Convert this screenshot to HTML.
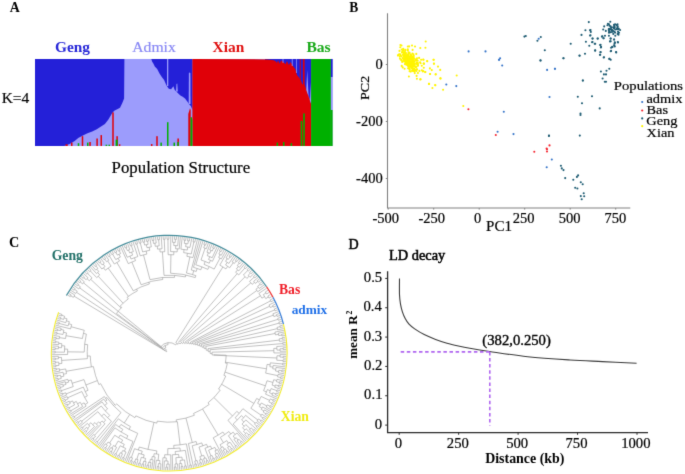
<!DOCTYPE html>
<html><head><meta charset="utf-8"><style>
html,body{margin:0;padding:0;background:#fff;}
svg{display:block;font-family:"Liberation Serif",serif;}
</style></head><body>
<svg width="685" height="474" viewBox="0 0 685 474">
<defs><filter id="bl" x="0" y="0" width="685" height="474" filterUnits="userSpaceOnUse" primitiveUnits="userSpaceOnUse" color-interpolation-filters="sRGB"><feConvolveMatrix order="3" kernelMatrix="0.01134 0.08382 0.01134 0.08382 0.61935 0.08382 0.01134 0.08382 0.01134" divisor="1" edgeMode="duplicate" preserveAlpha="true"/></filter></defs>
<rect width="685" height="474" fill="#fff"/>
<g filter="url(#bl)">
<rect width="685" height="474" fill="#fff"/>
<rect x="35.0" y="59.0" width="297.6" height="87.0" fill="#9c9cfc"/>
<polygon points="35.00,59.00 35.00,146.00 64.30,146.10 70.10,143.80 74.70,140.90 78.20,138.00 82.90,135.60 87.50,133.30 92.20,131.60 96.80,129.30 101.40,126.30 104.90,124.00 108.40,119.40 111.90,113.60 114.20,110.70 117.70,108.90 120.00,107.80 122.30,103.10 124.10,98.50 124.40,59.00" fill="#2420d8"/>
<polygon points="151.30,59.10 152.30,62.00 153.10,63.10 154.80,66.60 157.20,68.90 159.50,73.60 161.80,77.10 164.10,80.00 166.40,85.20 168.80,88.70 171.10,89.30 173.40,86.30 174.60,89.80 176.30,91.50 178.00,93.30 180.40,95.60 182.70,96.80 185.00,98.50 187.30,101.40 189.00,104.00 190.80,106.10 192.50,110.00 192.50,59.00" fill="#2420d8"/>
<rect x="167.0" y="59" width="1.3" height="27" fill="#9c9cfc"/>
<polygon points="176.00,91.50 176.50,84.00 177.30,83.50 177.80,91.50" fill="#9c9cfc"/>
<polygon points="188.70,104.00 188.90,73.50 189.60,72.30 190.40,73.50 190.50,104.00" fill="#9c9cfc"/>
<polygon points="152.50,59.00 153.20,64.00 153.60,59.00" fill="#2420d8"/>
<rect x="265" y="59" width="46.1" height="50" fill="#2420d8"/>
<polygon points="192.40,59.00 266.70,59.40 273.70,60.30 276.00,61.50 277.00,63.00 278.00,60.00 279.50,63.80 281.00,60.50 283.50,62.00 285.40,64.30 287.00,61.00 288.90,64.90 290.50,62.00 293.50,66.70 295.30,69.00 297.00,74.90 298.80,77.20 301.10,80.70 302.30,84.20 302.90,84.20 302.90,59.00 304.60,59.00 304.60,84.20 306.40,90.00 308.10,94.70 309.90,99.40 311.10,104.00 311.10,146.00 192.40,146.00" fill="#e00008"/>
<polygon points="306.30,90.00 307.20,70.00 308.60,96.00 309.80,100.00 310.30,82.00 311.10,104.00" fill="#9c9cfc"/>
<rect x="299.8" y="59" width="0.9" height="22" fill="#e00008"/>
<rect x="296.2" y="59" width="0.7" height="14" fill="#9c9cfc"/>
<rect x="291.8" y="59" width="0.8" height="7" fill="#9c9cfc"/>
<rect x="282.6" y="59" width="0.8" height="4" fill="#9c9cfc"/>
<rect x="311.1" y="59" width="19.8" height="87" fill="#00b000"/>
<rect x="330.9" y="59" width="1.7" height="18" fill="#2420d8"/>
<rect x="330.9" y="77" width="1.7" height="33" fill="#9c9cfc"/>
<rect x="330.9" y="110" width="1.7" height="36" fill="#00b000"/>
<rect x="65.50" y="144.30" width="2.20" height="1.70" fill="#e00008"/>
<rect x="71.00" y="142.60" width="1.50" height="3.40" fill="#e00008"/>
<rect x="81.75" y="136.20" width="1.50" height="9.80" fill="#e00008"/>
<rect x="89.30" y="142.00" width="1.50" height="4.00" fill="#e00008"/>
<rect x="96.35" y="138.50" width="1.50" height="7.50" fill="#e00008"/>
<rect x="100.50" y="135.10" width="1.50" height="10.90" fill="#e00008"/>
<rect x="112.25" y="112.40" width="1.50" height="33.60" fill="#e00008"/>
<rect x="116.35" y="136.20" width="1.50" height="9.80" fill="#e00008"/>
<rect x="118.85" y="144.30" width="1.50" height="1.70" fill="#e00008"/>
<rect x="77.75" y="143.20" width="1.50" height="2.80" fill="#00b000"/>
<rect x="87.00" y="142.60" width="1.50" height="3.40" fill="#00b000"/>
<rect x="105.60" y="144.70" width="1.50" height="1.30" fill="#00b000"/>
<rect x="108.50" y="144.70" width="1.50" height="1.30" fill="#00b000"/>
<rect x="115.60" y="139.70" width="2.00" height="6.30" fill="#00b000"/>
<rect x="150.95" y="144.10" width="1.50" height="1.90" fill="#e00008"/>
<rect x="156.25" y="136.20" width="1.50" height="9.80" fill="#e00008"/>
<rect x="160.40" y="142.60" width="1.50" height="3.40" fill="#00b000"/>
<rect x="167.00" y="122.20" width="1.50" height="23.80" fill="#00b000"/>
<rect x="173.50" y="142.60" width="1.50" height="3.40" fill="#00b000"/>
<rect x="177.40" y="138.50" width="1.50" height="7.50" fill="#e00008"/>
<rect x="177.30" y="142.00" width="1.50" height="4.00" fill="#00b000"/>
<rect x="300.70" y="121.00" width="1.50" height="25.00" fill="#00b000"/>
<rect x="303.20" y="113.40" width="1.60" height="32.60" fill="#00b000"/>
<rect x="276.60" y="142.60" width="1.50" height="3.40" fill="#00b000"/>
<rect x="283.00" y="142.00" width="1.50" height="4.00" fill="#00b000"/>
<rect x="290.60" y="143.20" width="1.50" height="2.80" fill="#00b000"/>
<polygon points="188.30,146.00 188.30,114.00 190.00,108.20 190.70,110.00 190.70,146.00" fill="#e00008"/>
<polygon points="190.40,146.00 190.60,117.00 191.60,116.90 192.40,120.00 192.40,146.00" fill="#00b000"/>
<text transform="translate(9.76,11.60) scale(0.9657,1)" font-size="14.39" font-weight="bold" fill="#000" stroke="#000" stroke-width="0.0">A</text>
<text transform="translate(54.94,52.30) scale(1.0102,1)" font-size="15.26" font-weight="bold" fill="#2828d8" stroke="#2828d8" stroke-width="0.0">Geng</text>
<text transform="translate(132.24,51.90) scale(1.0988,1)" font-size="14.27" font-weight="normal" fill="#8a8af5" stroke="#8a8af5" stroke-width="0.2">Admix</text>
<text transform="translate(212.51,52.20) scale(1.0397,1)" font-size="14.84" font-weight="bold" fill="#e01010" stroke="#e01010" stroke-width="0.0">Xian</text>
<text transform="translate(306.44,51.70) scale(1.0412,1)" font-size="14.96" font-weight="bold" fill="#1aaa1a" stroke="#1aaa1a" stroke-width="0.0">Bas</text>
<text transform="translate(1.65,103.30) scale(1.0000,1)" font-size="15.5" font-weight="normal" fill="#000" stroke="#000" stroke-width="0.2">K=4</text>
<text transform="translate(111.61,172.50) scale(1.0325,1)" font-size="16.28" font-weight="normal" fill="#000" stroke="#000" stroke-width="0.2">Population Structure</text>
<path d="M387.5,13.2 V208 H630.3" fill="none" stroke="#808080" stroke-width="1.1"/>
<line x1="388.20" y1="208" x2="388.20" y2="209.6" stroke="#808080" stroke-width="1"/>
<line x1="433.70" y1="208" x2="433.70" y2="209.6" stroke="#808080" stroke-width="1"/>
<line x1="479.20" y1="208" x2="479.20" y2="209.6" stroke="#808080" stroke-width="1"/>
<line x1="524.70" y1="208" x2="524.70" y2="209.6" stroke="#808080" stroke-width="1"/>
<line x1="570.20" y1="208" x2="570.20" y2="209.6" stroke="#808080" stroke-width="1"/>
<line x1="615.70" y1="208" x2="615.70" y2="209.6" stroke="#808080" stroke-width="1"/>
<line x1="385.8" y1="64.50" x2="387.5" y2="64.50" stroke="#808080" stroke-width="1"/>
<line x1="385.8" y1="121.50" x2="387.5" y2="121.50" stroke="#808080" stroke-width="1"/>
<line x1="385.8" y1="178.50" x2="387.5" y2="178.50" stroke="#808080" stroke-width="1"/>
<circle cx="407.1" cy="61.0" r="1.05" fill="#fff400"/>
<circle cx="409.5" cy="59.2" r="1.05" fill="#fff400"/>
<circle cx="406.5" cy="56.2" r="1.05" fill="#fff400"/>
<circle cx="412.6" cy="67.1" r="1.05" fill="#fff400"/>
<circle cx="412.8" cy="66.3" r="1.05" fill="#fff400"/>
<circle cx="410.5" cy="63.2" r="1.05" fill="#fff400"/>
<circle cx="400.7" cy="55.3" r="1.05" fill="#fff400"/>
<circle cx="410.1" cy="64.5" r="1.05" fill="#fff400"/>
<circle cx="407.8" cy="49.2" r="1.05" fill="#fff400"/>
<circle cx="407.4" cy="55.8" r="1.05" fill="#fff400"/>
<circle cx="410.8" cy="62.3" r="1.05" fill="#fff400"/>
<circle cx="413.3" cy="61.9" r="1.05" fill="#fff400"/>
<circle cx="409.6" cy="63.3" r="1.05" fill="#fff400"/>
<circle cx="402.2" cy="61.9" r="1.05" fill="#fff400"/>
<circle cx="408.3" cy="66.3" r="1.05" fill="#fff400"/>
<circle cx="409.1" cy="56.4" r="1.05" fill="#fff400"/>
<circle cx="408.5" cy="59.2" r="1.05" fill="#fff400"/>
<circle cx="411.3" cy="64.5" r="1.05" fill="#fff400"/>
<circle cx="410.4" cy="56.7" r="1.05" fill="#fff400"/>
<circle cx="404.1" cy="61.4" r="1.05" fill="#fff400"/>
<circle cx="405.7" cy="57.9" r="1.05" fill="#fff400"/>
<circle cx="415.3" cy="59.5" r="1.05" fill="#fff400"/>
<circle cx="406.1" cy="64.2" r="1.05" fill="#fff400"/>
<circle cx="402.6" cy="51.0" r="1.05" fill="#fff400"/>
<circle cx="411.3" cy="58.6" r="1.05" fill="#fff400"/>
<circle cx="411.6" cy="63.1" r="1.05" fill="#fff400"/>
<circle cx="401.6" cy="56.2" r="1.05" fill="#fff400"/>
<circle cx="409.5" cy="66.3" r="1.05" fill="#fff400"/>
<circle cx="414.1" cy="68.5" r="1.05" fill="#fff400"/>
<circle cx="413.5" cy="58.5" r="1.05" fill="#fff400"/>
<circle cx="413.6" cy="62.4" r="1.05" fill="#fff400"/>
<circle cx="411.2" cy="56.0" r="1.05" fill="#fff400"/>
<circle cx="407.2" cy="55.3" r="1.05" fill="#fff400"/>
<circle cx="420.1" cy="62.2" r="1.05" fill="#fff400"/>
<circle cx="403.2" cy="54.9" r="1.05" fill="#fff400"/>
<circle cx="413.5" cy="69.0" r="1.05" fill="#fff400"/>
<circle cx="409.1" cy="46.4" r="1.05" fill="#fff400"/>
<circle cx="412.9" cy="60.9" r="1.05" fill="#fff400"/>
<circle cx="402.5" cy="58.1" r="1.05" fill="#fff400"/>
<circle cx="413.3" cy="66.4" r="1.05" fill="#fff400"/>
<circle cx="409.3" cy="63.1" r="1.05" fill="#fff400"/>
<circle cx="413.9" cy="69.8" r="1.05" fill="#fff400"/>
<circle cx="410.0" cy="64.7" r="1.05" fill="#fff400"/>
<circle cx="399.9" cy="56.8" r="1.05" fill="#fff400"/>
<circle cx="411.7" cy="66.6" r="1.05" fill="#fff400"/>
<circle cx="403.6" cy="50.5" r="1.05" fill="#fff400"/>
<circle cx="417.7" cy="60.7" r="1.05" fill="#fff400"/>
<circle cx="406.0" cy="62.5" r="1.05" fill="#fff400"/>
<circle cx="400.0" cy="58.7" r="1.05" fill="#fff400"/>
<circle cx="412.0" cy="63.2" r="1.05" fill="#fff400"/>
<circle cx="409.0" cy="64.0" r="1.05" fill="#fff400"/>
<circle cx="406.8" cy="64.2" r="1.05" fill="#fff400"/>
<circle cx="408.1" cy="57.0" r="1.05" fill="#fff400"/>
<circle cx="413.4" cy="65.8" r="1.05" fill="#fff400"/>
<circle cx="403.5" cy="59.1" r="1.05" fill="#fff400"/>
<circle cx="416.4" cy="66.7" r="1.05" fill="#fff400"/>
<circle cx="404.5" cy="54.3" r="1.05" fill="#fff400"/>
<circle cx="409.7" cy="59.6" r="1.05" fill="#fff400"/>
<circle cx="417.7" cy="65.1" r="1.05" fill="#fff400"/>
<circle cx="417.9" cy="63.9" r="1.05" fill="#fff400"/>
<circle cx="404.7" cy="58.8" r="1.05" fill="#fff400"/>
<circle cx="411.5" cy="68.2" r="1.05" fill="#fff400"/>
<circle cx="410.4" cy="62.9" r="1.05" fill="#fff400"/>
<circle cx="408.5" cy="63.0" r="1.05" fill="#fff400"/>
<circle cx="408.1" cy="60.8" r="1.05" fill="#fff400"/>
<circle cx="411.7" cy="63.6" r="1.05" fill="#fff400"/>
<circle cx="410.9" cy="65.8" r="1.05" fill="#fff400"/>
<circle cx="416.4" cy="71.0" r="1.05" fill="#fff400"/>
<circle cx="408.9" cy="58.2" r="1.05" fill="#fff400"/>
<circle cx="406.9" cy="63.1" r="1.05" fill="#fff400"/>
<circle cx="407.1" cy="60.3" r="1.05" fill="#fff400"/>
<circle cx="423.7" cy="63.5" r="1.05" fill="#fff400"/>
<circle cx="404.5" cy="56.4" r="1.05" fill="#fff400"/>
<circle cx="410.4" cy="63.4" r="1.05" fill="#fff400"/>
<circle cx="406.0" cy="60.5" r="1.05" fill="#fff400"/>
<circle cx="412.0" cy="61.1" r="1.05" fill="#fff400"/>
<circle cx="417.9" cy="73.0" r="1.05" fill="#fff400"/>
<circle cx="407.6" cy="58.2" r="1.05" fill="#fff400"/>
<circle cx="408.8" cy="59.8" r="1.05" fill="#fff400"/>
<circle cx="400.3" cy="47.3" r="1.05" fill="#fff400"/>
<circle cx="416.6" cy="62.9" r="1.05" fill="#fff400"/>
<circle cx="406.6" cy="62.9" r="1.05" fill="#fff400"/>
<circle cx="408.7" cy="68.4" r="1.05" fill="#fff400"/>
<circle cx="403.9" cy="52.4" r="1.05" fill="#fff400"/>
<circle cx="406.5" cy="60.9" r="1.05" fill="#fff400"/>
<circle cx="421.1" cy="59.8" r="1.05" fill="#fff400"/>
<circle cx="417.7" cy="62.7" r="1.05" fill="#fff400"/>
<circle cx="416.2" cy="60.7" r="1.05" fill="#fff400"/>
<circle cx="406.9" cy="64.6" r="1.05" fill="#fff400"/>
<circle cx="408.4" cy="60.8" r="1.05" fill="#fff400"/>
<circle cx="412.2" cy="65.0" r="1.05" fill="#fff400"/>
<circle cx="404.9" cy="64.1" r="1.05" fill="#fff400"/>
<circle cx="414.4" cy="65.1" r="1.05" fill="#fff400"/>
<circle cx="423.3" cy="71.0" r="1.05" fill="#fff400"/>
<circle cx="413.8" cy="64.6" r="1.05" fill="#fff400"/>
<circle cx="408.1" cy="63.2" r="1.05" fill="#fff400"/>
<circle cx="408.6" cy="63.5" r="1.05" fill="#fff400"/>
<circle cx="407.8" cy="50.5" r="1.05" fill="#fff400"/>
<circle cx="414.5" cy="61.6" r="1.05" fill="#fff400"/>
<circle cx="409.6" cy="52.9" r="1.05" fill="#fff400"/>
<circle cx="412.3" cy="68.5" r="1.05" fill="#fff400"/>
<circle cx="417.8" cy="65.6" r="1.05" fill="#fff400"/>
<circle cx="412.6" cy="58.4" r="1.05" fill="#fff400"/>
<circle cx="408.1" cy="68.2" r="1.05" fill="#fff400"/>
<circle cx="401.8" cy="60.5" r="1.05" fill="#fff400"/>
<circle cx="413.8" cy="65.1" r="1.05" fill="#fff400"/>
<circle cx="398.0" cy="55.2" r="1.05" fill="#fff400"/>
<circle cx="410.8" cy="59.2" r="1.05" fill="#fff400"/>
<circle cx="409.9" cy="63.8" r="1.05" fill="#fff400"/>
<circle cx="418.1" cy="65.5" r="1.05" fill="#fff400"/>
<circle cx="409.8" cy="69.7" r="1.05" fill="#fff400"/>
<circle cx="415.6" cy="67.3" r="1.05" fill="#fff400"/>
<circle cx="403.8" cy="59.9" r="1.05" fill="#fff400"/>
<circle cx="409.6" cy="61.8" r="1.05" fill="#fff400"/>
<circle cx="415.7" cy="66.9" r="1.05" fill="#fff400"/>
<circle cx="401.7" cy="49.5" r="1.05" fill="#fff400"/>
<circle cx="400.1" cy="54.4" r="1.05" fill="#fff400"/>
<circle cx="412.4" cy="61.0" r="1.05" fill="#fff400"/>
<circle cx="407.2" cy="62.9" r="1.05" fill="#fff400"/>
<circle cx="406.1" cy="64.4" r="1.05" fill="#fff400"/>
<circle cx="406.4" cy="63.1" r="1.05" fill="#fff400"/>
<circle cx="410.8" cy="71.6" r="1.05" fill="#fff400"/>
<circle cx="404.5" cy="59.9" r="1.05" fill="#fff400"/>
<circle cx="405.3" cy="49.9" r="1.05" fill="#fff400"/>
<circle cx="399.0" cy="54.5" r="1.05" fill="#fff400"/>
<circle cx="404.8" cy="55.3" r="1.05" fill="#fff400"/>
<circle cx="408.8" cy="60.1" r="1.05" fill="#fff400"/>
<circle cx="406.6" cy="58.8" r="1.05" fill="#fff400"/>
<circle cx="416.3" cy="69.3" r="1.05" fill="#fff400"/>
<circle cx="408.8" cy="65.8" r="1.05" fill="#fff400"/>
<circle cx="412.2" cy="57.2" r="1.05" fill="#fff400"/>
<circle cx="404.4" cy="60.9" r="1.05" fill="#fff400"/>
<circle cx="404.8" cy="52.1" r="1.05" fill="#fff400"/>
<circle cx="411.2" cy="67.5" r="1.05" fill="#fff400"/>
<circle cx="407.3" cy="62.9" r="1.05" fill="#fff400"/>
<circle cx="413.4" cy="59.0" r="1.05" fill="#fff400"/>
<circle cx="405.2" cy="52.3" r="1.05" fill="#fff400"/>
<circle cx="414.6" cy="63.9" r="1.05" fill="#fff400"/>
<circle cx="408.1" cy="55.1" r="1.05" fill="#fff400"/>
<circle cx="403.9" cy="53.7" r="1.05" fill="#fff400"/>
<circle cx="403.9" cy="56.4" r="1.05" fill="#fff400"/>
<circle cx="399.5" cy="50.9" r="1.05" fill="#fff400"/>
<circle cx="412.4" cy="53.6" r="1.05" fill="#fff400"/>
<circle cx="413.1" cy="63.7" r="1.05" fill="#fff400"/>
<circle cx="403.3" cy="48.7" r="1.05" fill="#fff400"/>
<circle cx="411.9" cy="61.3" r="1.05" fill="#fff400"/>
<circle cx="410.4" cy="66.3" r="1.05" fill="#fff400"/>
<circle cx="411.2" cy="64.8" r="1.05" fill="#fff400"/>
<circle cx="412.8" cy="68.7" r="1.05" fill="#fff400"/>
<circle cx="417.0" cy="58.3" r="1.05" fill="#fff400"/>
<circle cx="409.3" cy="68.2" r="1.05" fill="#fff400"/>
<circle cx="409.6" cy="58.5" r="1.05" fill="#fff400"/>
<circle cx="421.8" cy="65.8" r="1.05" fill="#fff400"/>
<circle cx="404.6" cy="68.8" r="1.05" fill="#fff400"/>
<circle cx="404.0" cy="58.3" r="1.05" fill="#fff400"/>
<circle cx="417.1" cy="69.4" r="1.05" fill="#fff400"/>
<circle cx="409.2" cy="65.7" r="1.05" fill="#fff400"/>
<circle cx="406.3" cy="56.6" r="1.05" fill="#fff400"/>
<circle cx="408.4" cy="64.3" r="1.05" fill="#fff400"/>
<circle cx="409.9" cy="60.4" r="1.05" fill="#fff400"/>
<circle cx="406.6" cy="55.5" r="1.05" fill="#fff400"/>
<circle cx="412.7" cy="65.3" r="1.05" fill="#fff400"/>
<circle cx="408.5" cy="55.1" r="1.05" fill="#fff400"/>
<circle cx="416.6" cy="75.9" r="1.05" fill="#fff400"/>
<circle cx="419.1" cy="57.9" r="1.05" fill="#fff400"/>
<circle cx="410.6" cy="65.0" r="1.05" fill="#fff400"/>
<circle cx="414.8" cy="69.7" r="1.05" fill="#fff400"/>
<circle cx="407.8" cy="61.9" r="1.05" fill="#fff400"/>
<circle cx="399.2" cy="54.5" r="1.05" fill="#fff400"/>
<circle cx="412.7" cy="60.9" r="1.05" fill="#fff400"/>
<circle cx="409.6" cy="71.3" r="1.05" fill="#fff400"/>
<circle cx="405.9" cy="53.0" r="1.05" fill="#fff400"/>
<circle cx="410.1" cy="62.8" r="1.05" fill="#fff400"/>
<circle cx="410.6" cy="56.9" r="1.05" fill="#fff400"/>
<circle cx="414.8" cy="73.1" r="1.05" fill="#fff400"/>
<circle cx="408.6" cy="52.4" r="1.05" fill="#fff400"/>
<circle cx="413.3" cy="71.1" r="1.05" fill="#fff400"/>
<circle cx="414.3" cy="71.2" r="1.05" fill="#fff400"/>
<circle cx="405.4" cy="57.6" r="1.05" fill="#fff400"/>
<circle cx="403.2" cy="49.3" r="1.05" fill="#fff400"/>
<circle cx="407.8" cy="61.9" r="1.05" fill="#fff400"/>
<circle cx="407.0" cy="57.4" r="1.05" fill="#fff400"/>
<circle cx="410.2" cy="64.0" r="1.05" fill="#fff400"/>
<circle cx="411.4" cy="64.4" r="1.05" fill="#fff400"/>
<circle cx="406.1" cy="61.3" r="1.05" fill="#fff400"/>
<circle cx="412.0" cy="59.3" r="1.05" fill="#fff400"/>
<circle cx="407.1" cy="58.1" r="1.05" fill="#fff400"/>
<circle cx="408.6" cy="60.9" r="1.05" fill="#fff400"/>
<circle cx="409.0" cy="61.4" r="1.05" fill="#fff400"/>
<circle cx="412.5" cy="57.5" r="1.05" fill="#fff400"/>
<circle cx="408.2" cy="65.4" r="1.05" fill="#fff400"/>
<circle cx="411.7" cy="62.6" r="1.05" fill="#fff400"/>
<circle cx="413.9" cy="60.8" r="1.05" fill="#fff400"/>
<circle cx="402.0" cy="52.4" r="1.05" fill="#fff400"/>
<circle cx="403.9" cy="58.4" r="1.05" fill="#fff400"/>
<circle cx="412.6" cy="49.9" r="1.05" fill="#fff400"/>
<circle cx="401.1" cy="59.9" r="1.05" fill="#fff400"/>
<circle cx="411.8" cy="56.1" r="1.05" fill="#fff400"/>
<circle cx="405.1" cy="58.7" r="1.05" fill="#fff400"/>
<circle cx="410.9" cy="63.7" r="1.05" fill="#fff400"/>
<circle cx="413.3" cy="69.5" r="1.05" fill="#fff400"/>
<circle cx="407.8" cy="62.3" r="1.05" fill="#fff400"/>
<circle cx="413.2" cy="70.9" r="1.05" fill="#fff400"/>
<circle cx="416.4" cy="63.2" r="1.05" fill="#fff400"/>
<circle cx="406.9" cy="62.0" r="1.05" fill="#fff400"/>
<circle cx="405.4" cy="62.1" r="1.05" fill="#fff400"/>
<circle cx="409.3" cy="65.8" r="1.05" fill="#fff400"/>
<circle cx="401.7" cy="65.9" r="1.05" fill="#fff400"/>
<circle cx="414.9" cy="66.2" r="1.05" fill="#fff400"/>
<circle cx="402.7" cy="67.4" r="1.05" fill="#fff400"/>
<circle cx="405.8" cy="61.4" r="1.05" fill="#fff400"/>
<circle cx="413.3" cy="65.5" r="1.05" fill="#fff400"/>
<circle cx="404.5" cy="56.1" r="1.05" fill="#fff400"/>
<circle cx="407.8" cy="65.3" r="1.05" fill="#fff400"/>
<circle cx="412.5" cy="64.7" r="1.05" fill="#fff400"/>
<circle cx="411.3" cy="66.2" r="1.05" fill="#fff400"/>
<circle cx="410.1" cy="62.1" r="1.05" fill="#fff400"/>
<circle cx="406.7" cy="61.5" r="1.05" fill="#fff400"/>
<circle cx="407.2" cy="54.7" r="1.05" fill="#fff400"/>
<circle cx="413.6" cy="57.6" r="1.05" fill="#fff400"/>
<circle cx="413.4" cy="54.3" r="1.05" fill="#fff400"/>
<circle cx="405.3" cy="59.2" r="1.05" fill="#fff400"/>
<circle cx="411.8" cy="63.5" r="1.05" fill="#fff400"/>
<circle cx="412.5" cy="56.7" r="1.05" fill="#fff400"/>
<circle cx="415.1" cy="70.6" r="1.05" fill="#fff400"/>
<circle cx="416.2" cy="64.0" r="1.05" fill="#fff400"/>
<circle cx="413.8" cy="55.9" r="1.05" fill="#fff400"/>
<circle cx="409.9" cy="66.8" r="1.05" fill="#fff400"/>
<circle cx="402.3" cy="52.2" r="1.05" fill="#fff400"/>
<circle cx="416.8" cy="59.8" r="1.05" fill="#fff400"/>
<circle cx="405.4" cy="50.1" r="1.05" fill="#fff400"/>
<circle cx="410.9" cy="54.9" r="1.05" fill="#fff400"/>
<circle cx="408.9" cy="61.7" r="1.05" fill="#fff400"/>
<circle cx="410.0" cy="65.5" r="1.05" fill="#fff400"/>
<circle cx="412.1" cy="70.6" r="1.05" fill="#fff400"/>
<circle cx="405.8" cy="53.8" r="1.05" fill="#fff400"/>
<circle cx="408.4" cy="53.6" r="1.05" fill="#fff400"/>
<circle cx="409.2" cy="60.6" r="1.05" fill="#fff400"/>
<circle cx="415.8" cy="59.6" r="1.05" fill="#fff400"/>
<circle cx="404.8" cy="55.3" r="1.05" fill="#fff400"/>
<circle cx="409.6" cy="59.4" r="1.05" fill="#fff400"/>
<circle cx="411.4" cy="59.0" r="1.05" fill="#fff400"/>
<circle cx="411.2" cy="65.0" r="1.05" fill="#fff400"/>
<circle cx="411.0" cy="59.0" r="1.05" fill="#fff400"/>
<circle cx="416.3" cy="53.9" r="1.05" fill="#fff400"/>
<circle cx="405.6" cy="56.6" r="1.05" fill="#fff400"/>
<circle cx="403.1" cy="54.5" r="1.05" fill="#fff400"/>
<circle cx="413.9" cy="58.5" r="1.05" fill="#fff400"/>
<circle cx="409.4" cy="59.1" r="1.05" fill="#fff400"/>
<circle cx="409.6" cy="64.5" r="1.05" fill="#fff400"/>
<circle cx="411.7" cy="58.9" r="1.05" fill="#fff400"/>
<circle cx="409.1" cy="60.2" r="1.05" fill="#fff400"/>
<circle cx="411.5" cy="65.1" r="1.05" fill="#fff400"/>
<circle cx="410.4" cy="54.5" r="1.05" fill="#fff400"/>
<circle cx="410.1" cy="57.6" r="1.05" fill="#fff400"/>
<circle cx="405.5" cy="55.6" r="1.05" fill="#fff400"/>
<circle cx="407.3" cy="59.0" r="1.05" fill="#fff400"/>
<circle cx="412.7" cy="62.4" r="1.05" fill="#fff400"/>
<circle cx="419.4" cy="70.9" r="1.05" fill="#fff400"/>
<circle cx="413.4" cy="66.3" r="1.05" fill="#fff400"/>
<circle cx="425.7" cy="41.5" r="1.05" fill="#fff400"/>
<circle cx="425.4" cy="47.7" r="1.05" fill="#fff400"/>
<circle cx="420.3" cy="48.0" r="1.05" fill="#fff400"/>
<circle cx="415.0" cy="46.5" r="1.05" fill="#fff400"/>
<circle cx="433.5" cy="59.8" r="1.05" fill="#fff400"/>
<circle cx="434.0" cy="63.7" r="1.05" fill="#fff400"/>
<circle cx="438.0" cy="66.6" r="1.05" fill="#fff400"/>
<circle cx="440.2" cy="69.9" r="1.05" fill="#fff400"/>
<circle cx="429.9" cy="68.4" r="1.05" fill="#fff400"/>
<circle cx="431.8" cy="70.1" r="1.05" fill="#fff400"/>
<circle cx="430.1" cy="74.0" r="1.05" fill="#fff400"/>
<circle cx="435.8" cy="74.3" r="1.05" fill="#fff400"/>
<circle cx="440.6" cy="78.4" r="1.05" fill="#fff400"/>
<circle cx="456.7" cy="75.5" r="1.05" fill="#fff400"/>
<circle cx="429.1" cy="83.9" r="1.05" fill="#fff400"/>
<circle cx="435.3" cy="85.2" r="1.05" fill="#fff400"/>
<circle cx="432.4" cy="88.0" r="1.05" fill="#fff400"/>
<circle cx="443.1" cy="89.8" r="1.05" fill="#fff400"/>
<circle cx="427.2" cy="61.3" r="1.05" fill="#fff400"/>
<circle cx="423.2" cy="59.5" r="1.05" fill="#fff400"/>
<circle cx="424.0" cy="63.7" r="1.05" fill="#fff400"/>
<circle cx="425.4" cy="72.0" r="1.05" fill="#fff400"/>
<circle cx="420.3" cy="79.4" r="1.05" fill="#fff400"/>
<circle cx="408.9" cy="76.5" r="1.05" fill="#fff400"/>
<circle cx="416.9" cy="78.7" r="1.05" fill="#fff400"/>
<circle cx="423.5" cy="59.7" r="1.05" fill="#fff400"/>
<circle cx="427.2" cy="61.1" r="1.05" fill="#fff400"/>
<circle cx="433.7" cy="59.8" r="1.05" fill="#fff400"/>
<circle cx="433.9" cy="63.6" r="1.05" fill="#fff400"/>
<circle cx="423.8" cy="63.6" r="1.05" fill="#fff400"/>
<circle cx="420.6" cy="63.2" r="1.05" fill="#fff400"/>
<circle cx="423.8" cy="67.7" r="1.05" fill="#fff400"/>
<circle cx="421.9" cy="70.2" r="1.05" fill="#fff400"/>
<circle cx="422.8" cy="71.5" r="1.05" fill="#fff400"/>
<circle cx="425.1" cy="72.1" r="1.05" fill="#fff400"/>
<circle cx="430.1" cy="74.0" r="1.05" fill="#fff400"/>
<circle cx="435.6" cy="74.4" r="1.05" fill="#fff400"/>
<circle cx="440.3" cy="78.4" r="1.05" fill="#fff400"/>
<circle cx="420.6" cy="79.3" r="1.05" fill="#fff400"/>
<circle cx="428.9" cy="83.9" r="1.05" fill="#fff400"/>
<circle cx="435.2" cy="85.1" r="1.05" fill="#fff400"/>
<circle cx="463.3" cy="106.0" r="1.05" fill="#fff400"/>
<circle cx="400.4" cy="45.0" r="1.05" fill="#fff400"/>
<circle cx="398.0" cy="55.5" r="1.05" fill="#fff400"/>
<circle cx="401.5" cy="45.5" r="1.05" fill="#fff400"/>
<circle cx="407.8" cy="46.5" r="1.05" fill="#fff400"/>
<circle cx="412.0" cy="45.5" r="1.05" fill="#fff400"/>
<circle cx="468.6" cy="51.4" r="1.05" fill="#3473c8"/>
<circle cx="485.5" cy="51.4" r="1.05" fill="#3473c8"/>
<circle cx="500.1" cy="58.3" r="1.05" fill="#3473c8"/>
<circle cx="499.0" cy="59.8" r="1.05" fill="#3473c8"/>
<circle cx="502.2" cy="65.5" r="1.05" fill="#3473c8"/>
<circle cx="547.1" cy="69.9" r="1.05" fill="#3473c8"/>
<circle cx="554.9" cy="68.7" r="1.05" fill="#3473c8"/>
<circle cx="549.5" cy="97.0" r="1.05" fill="#3473c8"/>
<circle cx="503.8" cy="111.8" r="1.05" fill="#3473c8"/>
<circle cx="446.3" cy="84.5" r="1.05" fill="#3473c8"/>
<circle cx="456.3" cy="86.1" r="1.05" fill="#3473c8"/>
<circle cx="538.7" cy="38.7" r="1.05" fill="#3473c8"/>
<circle cx="497.6" cy="131.7" r="1.05" fill="#3473c8"/>
<circle cx="513.5" cy="134.1" r="1.05" fill="#3473c8"/>
<circle cx="551.8" cy="159.5" r="1.05" fill="#3473c8"/>
<circle cx="546.7" cy="167.2" r="1.05" fill="#3473c8"/>
<circle cx="555.0" cy="68.7" r="1.05" fill="#3473c8"/>
<circle cx="499.1" cy="59.7" r="1.05" fill="#3473c8"/>
<circle cx="468.4" cy="109.2" r="1.05" fill="#f5222d"/>
<circle cx="495.8" cy="135.0" r="1.05" fill="#f5222d"/>
<circle cx="534.3" cy="151.8" r="1.05" fill="#f5222d"/>
<circle cx="549.5" cy="145.4" r="1.05" fill="#f5222d"/>
<circle cx="546.6" cy="148.6" r="1.05" fill="#f5222d"/>
<circle cx="547.0" cy="149.3" r="1.05" fill="#f5222d"/>
<circle cx="547.0" cy="151.5" r="1.05" fill="#f5222d"/>
<circle cx="524.4" cy="36.6" r="1.05" fill="#1d5b72"/>
<circle cx="525.8" cy="36.0" r="1.05" fill="#1d5b72"/>
<circle cx="540.8" cy="37.0" r="1.05" fill="#1d5b72"/>
<circle cx="537.4" cy="40.8" r="1.05" fill="#1d5b72"/>
<circle cx="544.8" cy="50.3" r="1.05" fill="#1d5b72"/>
<circle cx="540.4" cy="60.4" r="1.05" fill="#1d5b72"/>
<circle cx="588.8" cy="22.1" r="1.05" fill="#1d5b72"/>
<circle cx="585.4" cy="30.2" r="1.05" fill="#1d5b72"/>
<circle cx="590.1" cy="30.2" r="1.05" fill="#1d5b72"/>
<circle cx="590.8" cy="31.9" r="1.05" fill="#1d5b72"/>
<circle cx="581.5" cy="34.9" r="1.05" fill="#1d5b72"/>
<circle cx="590.1" cy="35.6" r="1.05" fill="#1d5b72"/>
<circle cx="592.5" cy="38.6" r="1.05" fill="#1d5b72"/>
<circle cx="597.5" cy="38.6" r="1.05" fill="#1d5b72"/>
<circle cx="601.9" cy="36.6" r="1.05" fill="#1d5b72"/>
<circle cx="603.6" cy="38.3" r="1.05" fill="#1d5b72"/>
<circle cx="585.9" cy="41.7" r="1.05" fill="#1d5b72"/>
<circle cx="592.5" cy="42.0" r="1.05" fill="#1d5b72"/>
<circle cx="595.2" cy="43.7" r="1.05" fill="#1d5b72"/>
<circle cx="589.3" cy="45.7" r="1.05" fill="#1d5b72"/>
<circle cx="600.2" cy="45.0" r="1.05" fill="#1d5b72"/>
<circle cx="600.9" cy="47.4" r="1.05" fill="#1d5b72"/>
<circle cx="570.7" cy="43.7" r="1.05" fill="#1d5b72"/>
<circle cx="595.2" cy="50.4" r="1.05" fill="#1d5b72"/>
<circle cx="600.6" cy="52.1" r="1.05" fill="#1d5b72"/>
<circle cx="600.2" cy="54.8" r="1.05" fill="#1d5b72"/>
<circle cx="585.0" cy="53.8" r="1.05" fill="#1d5b72"/>
<circle cx="579.5" cy="55.5" r="1.05" fill="#1d5b72"/>
<circle cx="604.0" cy="57.2" r="1.05" fill="#1d5b72"/>
<circle cx="563.4" cy="58.2" r="1.05" fill="#1d5b72"/>
<circle cx="609.3" cy="58.9" r="1.05" fill="#1d5b72"/>
<circle cx="610.7" cy="59.7" r="1.05" fill="#1d5b72"/>
<circle cx="610.7" cy="51.3" r="1.05" fill="#1d5b72"/>
<circle cx="616.1" cy="52.1" r="1.05" fill="#1d5b72"/>
<circle cx="612.4" cy="47.1" r="1.05" fill="#1d5b72"/>
<circle cx="614.1" cy="45.4" r="1.05" fill="#1d5b72"/>
<circle cx="614.9" cy="42.8" r="1.05" fill="#1d5b72"/>
<circle cx="617.8" cy="42.0" r="1.05" fill="#1d5b72"/>
<circle cx="614.1" cy="39.5" r="1.05" fill="#1d5b72"/>
<circle cx="610.7" cy="41.2" r="1.05" fill="#1d5b72"/>
<circle cx="610.7" cy="38.6" r="1.05" fill="#1d5b72"/>
<circle cx="609.3" cy="68.7" r="1.05" fill="#1d5b72"/>
<circle cx="606.5" cy="70.7" r="1.05" fill="#1d5b72"/>
<circle cx="600.9" cy="71.5" r="1.05" fill="#1d5b72"/>
<circle cx="603.9" cy="74.4" r="1.05" fill="#1d5b72"/>
<circle cx="606.0" cy="74.4" r="1.05" fill="#1d5b72"/>
<circle cx="602.6" cy="78.5" r="1.05" fill="#1d5b72"/>
<circle cx="604.8" cy="81.7" r="1.05" fill="#1d5b72"/>
<circle cx="606.0" cy="81.7" r="1.05" fill="#1d5b72"/>
<circle cx="582.8" cy="80.5" r="1.05" fill="#1d5b72"/>
<circle cx="610.3" cy="21.8" r="1.05" fill="#1d5b72"/>
<circle cx="607.9" cy="23.7" r="1.05" fill="#1d5b72"/>
<circle cx="609.0" cy="24.2" r="1.05" fill="#1d5b72"/>
<circle cx="607.4" cy="25.3" r="1.05" fill="#1d5b72"/>
<circle cx="609.5" cy="25.8" r="1.05" fill="#1d5b72"/>
<circle cx="610.6" cy="26.4" r="1.05" fill="#1d5b72"/>
<circle cx="611.1" cy="27.4" r="1.05" fill="#1d5b72"/>
<circle cx="615.1" cy="24.2" r="1.05" fill="#1d5b72"/>
<circle cx="614.5" cy="26.0" r="1.05" fill="#1d5b72"/>
<circle cx="614.1" cy="27.4" r="1.05" fill="#1d5b72"/>
<circle cx="604.2" cy="26.4" r="1.05" fill="#1d5b72"/>
<circle cx="603.2" cy="29.5" r="1.05" fill="#1d5b72"/>
<circle cx="605.8" cy="30.9" r="1.05" fill="#1d5b72"/>
<circle cx="608.8" cy="29.0" r="1.05" fill="#1d5b72"/>
<circle cx="610.6" cy="29.5" r="1.05" fill="#1d5b72"/>
<circle cx="612.2" cy="30.0" r="1.05" fill="#1d5b72"/>
<circle cx="613.2" cy="31.1" r="1.05" fill="#1d5b72"/>
<circle cx="609.0" cy="32.7" r="1.05" fill="#1d5b72"/>
<circle cx="610.6" cy="32.2" r="1.05" fill="#1d5b72"/>
<circle cx="615.3" cy="29.5" r="1.05" fill="#1d5b72"/>
<circle cx="617.4" cy="27.4" r="1.05" fill="#1d5b72"/>
<circle cx="618.5" cy="28.5" r="1.05" fill="#1d5b72"/>
<circle cx="620.1" cy="30.0" r="1.05" fill="#1d5b72"/>
<circle cx="618.0" cy="31.6" r="1.05" fill="#1d5b72"/>
<circle cx="619.0" cy="32.7" r="1.05" fill="#1d5b72"/>
<circle cx="618.5" cy="34.8" r="1.05" fill="#1d5b72"/>
<circle cx="617.6" cy="34.0" r="1.05" fill="#1d5b72"/>
<circle cx="615.3" cy="35.8" r="1.05" fill="#1d5b72"/>
<circle cx="602.4" cy="36.4" r="1.05" fill="#1d5b72"/>
<circle cx="603.5" cy="38.3" r="1.05" fill="#1d5b72"/>
<circle cx="597.9" cy="38.5" r="1.05" fill="#1d5b72"/>
<circle cx="592.6" cy="38.5" r="1.05" fill="#1d5b72"/>
<circle cx="610.6" cy="38.5" r="1.05" fill="#1d5b72"/>
<circle cx="614.1" cy="39.5" r="1.05" fill="#1d5b72"/>
<circle cx="610.0" cy="41.4" r="1.05" fill="#1d5b72"/>
<circle cx="614.8" cy="42.2" r="1.05" fill="#1d5b72"/>
<circle cx="618.0" cy="42.5" r="1.05" fill="#1d5b72"/>
<circle cx="614.5" cy="43.8" r="1.05" fill="#1d5b72"/>
<circle cx="592.1" cy="42.2" r="1.05" fill="#1d5b72"/>
<circle cx="594.7" cy="43.8" r="1.05" fill="#1d5b72"/>
<circle cx="600.5" cy="44.8" r="1.05" fill="#1d5b72"/>
<circle cx="601.1" cy="46.9" r="1.05" fill="#1d5b72"/>
<circle cx="612.2" cy="46.9" r="1.05" fill="#1d5b72"/>
<circle cx="611.1" cy="47.8" r="1.05" fill="#1d5b72"/>
<circle cx="614.8" cy="46.4" r="1.05" fill="#1d5b72"/>
<circle cx="595.1" cy="50.6" r="1.05" fill="#1d5b72"/>
<circle cx="611.1" cy="50.9" r="1.05" fill="#1d5b72"/>
<circle cx="600.5" cy="52.2" r="1.05" fill="#1d5b72"/>
<circle cx="616.2" cy="52.4" r="1.05" fill="#1d5b72"/>
<circle cx="600.0" cy="54.8" r="1.05" fill="#1d5b72"/>
<circle cx="603.7" cy="57.5" r="1.05" fill="#1d5b72"/>
<circle cx="609.5" cy="58.7" r="1.05" fill="#1d5b72"/>
<circle cx="590.5" cy="30.0" r="1.05" fill="#1d5b72"/>
<circle cx="590.5" cy="35.3" r="1.05" fill="#1d5b72"/>
<circle cx="540.6" cy="60.5" r="1.05" fill="#1d5b72"/>
<circle cx="563.5" cy="58.2" r="1.05" fill="#1d5b72"/>
<circle cx="579.6" cy="55.7" r="1.05" fill="#1d5b72"/>
<circle cx="582.9" cy="80.5" r="1.05" fill="#1d5b72"/>
<circle cx="577.8" cy="96.8" r="1.05" fill="#1d5b72"/>
<circle cx="592.0" cy="96.2" r="1.05" fill="#1d5b72"/>
<circle cx="582.0" cy="103.2" r="1.05" fill="#1d5b72"/>
<circle cx="599.7" cy="108.4" r="1.05" fill="#1d5b72"/>
<circle cx="580.5" cy="113.5" r="1.05" fill="#1d5b72"/>
<circle cx="580.5" cy="115.0" r="1.05" fill="#1d5b72"/>
<circle cx="549.0" cy="135.6" r="1.05" fill="#1d5b72"/>
<circle cx="579.8" cy="135.6" r="1.05" fill="#1d5b72"/>
<circle cx="548.9" cy="135.9" r="1.05" fill="#1d5b72"/>
<circle cx="560.9" cy="165.7" r="1.05" fill="#1d5b72"/>
<circle cx="561.8" cy="168.4" r="1.05" fill="#1d5b72"/>
<circle cx="563.5" cy="170.1" r="1.05" fill="#1d5b72"/>
<circle cx="565.2" cy="178.1" r="1.05" fill="#1d5b72"/>
<circle cx="573.3" cy="179.8" r="1.05" fill="#1d5b72"/>
<circle cx="576.9" cy="176.9" r="1.05" fill="#1d5b72"/>
<circle cx="578.1" cy="175.4" r="1.05" fill="#1d5b72"/>
<circle cx="580.8" cy="182.2" r="1.05" fill="#1d5b72"/>
<circle cx="582.7" cy="184.2" r="1.05" fill="#1d5b72"/>
<circle cx="575.2" cy="187.8" r="1.05" fill="#1d5b72"/>
<circle cx="577.4" cy="188.5" r="1.05" fill="#1d5b72"/>
<circle cx="580.8" cy="196.1" r="1.05" fill="#1d5b72"/>
<circle cx="583.7" cy="193.2" r="1.05" fill="#1d5b72"/>
<circle cx="584.2" cy="196.3" r="1.05" fill="#1d5b72"/>
<circle cx="581.7" cy="199.2" r="1.05" fill="#1d5b72"/>
<circle cx="609.0" cy="29.9" r="1.05" fill="#1d5b72"/>
<circle cx="613.3" cy="33.9" r="1.05" fill="#1d5b72"/>
<circle cx="615.1" cy="32.6" r="1.05" fill="#1d5b72"/>
<circle cx="614.0" cy="28.4" r="1.05" fill="#1d5b72"/>
<circle cx="614.0" cy="24.9" r="1.05" fill="#1d5b72"/>
<circle cx="616.7" cy="25.1" r="1.05" fill="#1d5b72"/>
<circle cx="611.1" cy="29.1" r="1.05" fill="#1d5b72"/>
<circle cx="616.7" cy="29.1" r="1.05" fill="#1d5b72"/>
<circle cx="608.8" cy="30.0" r="1.05" fill="#1d5b72"/>
<circle cx="614.3" cy="31.7" r="1.05" fill="#1d5b72"/>
<circle cx="608.9" cy="35.7" r="1.05" fill="#1d5b72"/>
<circle cx="618.7" cy="29.1" r="1.05" fill="#1d5b72"/>
<circle cx="613.1" cy="27.4" r="1.05" fill="#1d5b72"/>
<circle cx="617.7" cy="26.3" r="1.05" fill="#1d5b72"/>
<circle cx="614.7" cy="27.2" r="1.05" fill="#1d5b72"/>
<circle cx="609.2" cy="31.7" r="1.05" fill="#1d5b72"/>
<circle cx="617.3" cy="29.0" r="1.05" fill="#1d5b72"/>
<circle cx="609.3" cy="32.1" r="1.05" fill="#1d5b72"/>
<circle cx="611.8" cy="30.2" r="1.05" fill="#1d5b72"/>
<circle cx="618.1" cy="33.3" r="1.05" fill="#1d5b72"/>
<circle cx="612.0" cy="32.0" r="1.05" fill="#1d5b72"/>
<circle cx="609.4" cy="28.8" r="1.05" fill="#1d5b72"/>
<circle cx="605.0" cy="35.8" r="1.05" fill="#1d5b72"/>
<circle cx="617.5" cy="24.4" r="1.05" fill="#1d5b72"/>
<circle cx="642.2" cy="102.0" r="1.1" fill="#3473c8"/>
<circle cx="642.2" cy="110.5" r="1.1" fill="#f5222d"/>
<circle cx="642.2" cy="118.4" r="1.1" fill="#1d5b72"/>
<circle cx="642.2" cy="126.2" r="1.1" fill="#fff400"/>
<text transform="translate(349.17,11.60) scale(0.9829,1)" font-size="13.74" font-weight="bold" fill="#000" stroke="#000" stroke-width="0.0">B</text>
<text transform="translate(375.40,69.25) scale(1.0000,1)" font-size="14.5" font-weight="normal" fill="#000" stroke="#000" stroke-width="0.2">0</text>
<text transform="translate(356.07,126.25) scale(1.0000,1)" font-size="14.5" font-weight="normal" fill="#000" stroke="#000" stroke-width="0.2">-200</text>
<text transform="translate(356.07,183.25) scale(1.0000,1)" font-size="14.5" font-weight="normal" fill="#000" stroke="#000" stroke-width="0.2">-400</text>
<text transform="translate(372.42,222.75) scale(1.0000,1)" font-size="14.5" font-weight="normal" fill="#000" stroke="#000" stroke-width="0.2">-500</text>
<text transform="translate(418.42,222.75) scale(1.0000,1)" font-size="14.5" font-weight="normal" fill="#000" stroke="#000" stroke-width="0.2">-250</text>
<text transform="translate(474.07,222.75) scale(1.0000,1)" font-size="14.5" font-weight="normal" fill="#000" stroke="#000" stroke-width="0.2">0</text>
<text transform="translate(512.78,222.75) scale(1.0000,1)" font-size="14.5" font-weight="normal" fill="#000" stroke="#000" stroke-width="0.2">250</text>
<text transform="translate(558.68,222.75) scale(1.0000,1)" font-size="14.5" font-weight="normal" fill="#000" stroke="#000" stroke-width="0.2">500</text>
<text transform="translate(604.62,222.75) scale(1.0000,1)" font-size="14.5" font-weight="normal" fill="#000" stroke="#000" stroke-width="0.2">750</text>
<text transform="translate(368.97,100.01) rotate(-90) scale(1.0478,1)" font-size="13.39" font-weight="normal" fill="#000" stroke="#000" stroke-width="0.2">PC2</text>
<text transform="translate(486.06,230.50) scale(1.0000,1)" font-size="15" font-weight="normal" fill="#000" stroke="#000" stroke-width="0.2">PC1</text>
<text transform="translate(613.87,89.90) scale(1.0864,1)" font-size="13.5" font-weight="normal" fill="#000" stroke="#000" stroke-width="0.2">Populations</text>
<text transform="translate(646.39,102.90) scale(1.1101,1)" font-size="13.0" font-weight="normal" fill="#000" stroke="#000" stroke-width="0.2">admix</text>
<text transform="translate(646.48,114.20) scale(1.1043,1)" font-size="13.0" font-weight="normal" fill="#000" stroke="#000" stroke-width="0.2">Bas</text>
<text transform="translate(646.31,124.60) scale(1.1067,1)" font-size="13.0" font-weight="normal" fill="#000" stroke="#000" stroke-width="0.2">Geng</text>
<text transform="translate(646.59,137.30) scale(1.1012,1)" font-size="13.0" font-weight="normal" fill="#000" stroke="#000" stroke-width="0.2">Xian</text>
<path d="M166.63,351.66A3.00,3.00 0 0 1 166.93,351.23M166.63,351.66L74.08,296.18M73.39,297.35A110.90,110.90 0 0 1 74.79,295.01M73.39,297.35L70.71,295.79M70.24,296.60A114.00,114.00 0 0 1 71.19,294.98M70.24,296.60L67.55,295.06M71.19,294.98L68.52,293.40M74.79,295.01L69.51,291.76M166.93,351.23L165.50,349.99M165.10,350.51A4.90,4.90 0 0 1 165.96,349.53M165.10,350.51L76.50,292.33M75.76,293.47A110.90,110.90 0 0 1 77.25,291.20M75.76,293.47L70.53,290.13M77.25,291.20L74.68,289.46M74.16,290.24A114.00,114.00 0 0 1 75.21,288.69M74.16,290.24L71.58,288.53M75.21,288.69L72.65,286.94M165.96,349.53L164.70,348.10M163.71,349.19A6.80,6.80 0 0 1 165.91,347.25M163.71,349.19L79.60,287.85M78.80,288.96A110.90,110.90 0 0 1 80.41,286.75M78.80,288.96L73.75,285.36M80.41,286.75L77.93,284.90M77.37,285.65A114.00,114.00 0 0 1 78.49,284.15M77.37,285.65L74.87,283.81M78.49,284.15L76.02,282.27M165.91,347.25L164.99,345.59M162.48,347.68A8.70,8.70 0 0 1 168.09,344.57M162.48,347.68L83.49,282.82M82.63,283.88A110.90,110.90 0 0 1 84.36,281.77M82.63,283.88L80.21,281.94M79.63,282.67A114.00,114.00 0 0 1 80.80,281.22M79.63,282.67L77.20,280.76M80.80,281.22L78.40,279.26M84.36,281.77L79.62,277.78M168.09,344.57L167.85,342.69M160.73,346.82A10.60,10.60 0 0 1 175.78,344.89M160.73,346.82L116.49,313.48M116.49,313.48A66.00,66.00 0 0 1 121.72,307.35M121.14,307.97L90.70,279.32M89.35,280.78A107.80,107.80 0 0 1 92.07,277.88M89.35,280.78L87.05,278.70M86.14,279.71A110.90,110.90 0 0 1 87.98,277.69M86.14,279.71L83.82,277.66M83.21,278.36A114.00,114.00 0 0 1 84.44,276.96M83.21,278.36L80.87,276.32M84.44,276.96L82.14,274.89M87.98,277.69L83.43,273.47M92.07,277.88L87.64,273.55M86.99,274.22A114.00,114.00 0 0 1 88.29,272.89M86.99,274.22L84.75,272.08M88.29,272.89L86.09,270.70M121.72,307.35L120.28,305.96M120.28,305.96A68.00,68.00 0 0 1 128.28,298.89M123.10,303.22L98.21,276.24M96.73,277.64A104.70,104.70 0 0 1 99.72,274.87M96.73,277.64L90.29,270.92M89.62,271.57A114.00,114.00 0 0 1 90.97,270.28M89.62,271.57L87.46,269.35M90.97,270.28L88.84,268.03M99.72,274.87L97.67,272.55M96.52,273.59A107.80,107.80 0 0 1 98.83,271.54M96.52,273.59L90.25,266.72M98.83,271.54L96.81,269.19M95.78,270.08A110.90,110.90 0 0 1 97.84,268.31M95.78,270.08L91.67,265.44M97.84,268.31L95.85,265.93M95.14,266.54A114.00,114.00 0 0 1 96.57,265.33M95.14,266.54L93.12,264.18M96.57,265.33L94.59,262.95M128.28,298.89L127.07,297.30M127.07,297.30A70.00,70.00 0 0 1 137.42,290.83M128.40,296.32L108.18,268.12M105.34,270.23A104.70,104.70 0 0 1 111.09,266.11M105.34,270.23L103.45,267.77M101.89,269.00A107.80,107.80 0 0 1 105.04,266.58M101.89,269.00L96.08,261.74M105.04,266.58L103.19,264.08M102.10,264.90A110.90,110.90 0 0 1 104.29,263.28M102.10,264.90L100.22,262.43M99.48,263.00A114.00,114.00 0 0 1 100.97,261.87M99.48,263.00L97.59,260.55M100.97,261.87L99.12,259.39M104.29,263.28L100.66,258.25M111.09,266.11L107.65,260.95M106.52,261.71A110.90,110.90 0 0 1 108.79,260.20M106.52,261.71L104.77,259.16M104.00,259.69A114.00,114.00 0 0 1 105.54,258.63M104.00,259.69L102.23,257.14M105.54,258.63L103.81,256.06M108.79,260.20L105.41,255.00M137.42,290.83L136.51,289.05M133.25,290.82A72.00,72.00 0 0 1 149.35,283.99M133.25,290.82L116.92,262.49M114.34,264.02A104.70,104.70 0 0 1 119.54,261.03M114.34,264.02L109.47,256.10M108.67,256.60A114.00,114.00 0 0 1 110.26,255.62M108.67,256.60L107.03,253.97M110.26,255.62L108.66,252.96M119.54,261.03L118.07,258.30M115.75,259.58A107.80,107.80 0 0 1 120.42,257.07M115.75,259.58L112.68,254.20M111.87,254.66A114.00,114.00 0 0 1 113.49,253.74M111.87,254.66L110.31,251.99M113.49,253.74L111.98,251.03M120.42,257.07L119.01,254.31M117.40,255.14A110.90,110.90 0 0 1 120.64,253.50M117.40,255.14L115.95,252.40M115.13,252.84A114.00,114.00 0 0 1 116.78,251.97M115.13,252.84L113.66,250.11M116.78,251.97L115.35,249.21M120.64,253.50L119.28,250.71M118.45,251.12A114.00,114.00 0 0 1 120.12,250.30M118.45,251.12L117.07,248.35M120.12,250.30L118.79,247.51M149.35,283.99L148.80,282.07M141.14,284.73A74.00,74.00 0 0 1 162.75,279.48M141.14,284.73L131.85,262.06M128.26,263.61A98.50,98.50 0 0 1 135.49,260.65M128.26,263.61L120.53,246.69M135.49,260.65L134.43,257.73M131.08,259.02A101.60,101.60 0 0 1 137.82,256.57M131.08,259.02L129.92,256.15M127.25,257.27A104.70,104.70 0 0 1 132.61,255.10M127.25,257.27L122.28,245.91M132.61,255.10L131.53,252.20M129.68,252.91A107.80,107.80 0 0 1 133.40,251.52M129.68,252.91L128.54,250.02M127.27,250.53A110.90,110.90 0 0 1 129.81,249.53M127.27,250.53L126.10,247.66M125.24,248.02A114.00,114.00 0 0 1 126.97,247.31M125.24,248.02L124.04,245.16M126.97,247.31L125.82,244.43M129.81,249.53L127.61,243.74M133.40,251.52L131.34,245.67M130.46,245.98A114.00,114.00 0 0 1 132.22,245.36M130.46,245.98L129.41,243.07M132.22,245.36L131.22,242.43M137.82,256.57L133.04,241.82M162.75,279.48L162.58,277.49M149.99,279.67A76.00,76.00 0 0 1 174.50,277.39M149.99,279.67L143.51,254.90M140.21,255.82A101.60,101.60 0 0 1 146.85,254.09M140.21,255.82L136.67,243.94M135.77,244.21A114.00,114.00 0 0 1 137.56,243.68M135.77,244.21L134.87,241.25M137.56,243.68L136.70,240.70M146.85,254.09L146.17,251.06M142.63,251.93A104.70,104.70 0 0 1 149.74,250.33M142.63,251.93L140.27,242.93M139.36,243.17A114.00,114.00 0 0 1 141.17,242.70M139.36,243.17L138.55,240.18M141.17,242.70L140.41,239.69M149.74,250.33L149.16,247.28M146.99,247.71A107.80,107.80 0 0 1 151.33,246.89M146.99,247.71L146.36,244.68M144.58,245.07A110.90,110.90 0 0 1 148.14,244.32M144.58,245.07L143.89,242.04M142.98,242.26A114.00,114.00 0 0 1 144.80,241.84M142.98,242.26L142.27,239.24M144.80,241.84L144.14,238.81M148.14,244.32L147.55,241.27M146.63,241.46A114.00,114.00 0 0 1 148.47,241.10M146.63,241.46L146.02,238.42M148.47,241.10L147.90,238.05M151.33,246.89L149.79,237.72M174.50,277.39L174.64,275.39M164.00,275.37A78.00,78.00 0 0 1 185.42,276.90M164.00,275.37L162.43,251.83M160.10,252.01A101.60,101.60 0 0 1 164.77,251.70M160.10,252.01L159.82,248.92M157.58,249.15A104.70,104.70 0 0 1 162.06,248.74M157.58,249.15L157.24,246.07M155.26,246.30A107.80,107.80 0 0 1 159.21,245.86M155.26,246.30L154.86,243.23M153.51,243.42A110.90,110.90 0 0 1 156.21,243.06M153.51,243.42L153.07,240.35M152.15,240.48A114.00,114.00 0 0 1 154.00,240.22M152.15,240.48L151.69,237.42M154.00,240.22L153.59,237.15M156.21,243.06L155.49,236.91M159.21,245.86L158.64,239.69M157.71,239.78A114.00,114.00 0 0 1 159.57,239.61M157.71,239.78L157.40,236.70M159.57,239.61L159.31,236.52M162.06,248.74L161.22,236.37M164.77,251.70L164.23,239.31M163.29,239.35A114.00,114.00 0 0 1 165.16,239.27M163.29,239.35L163.13,236.26M165.16,239.27L165.05,236.17M185.42,276.90L185.83,274.95M170.60,273.21A80.00,80.00 0 0 1 195.25,277.56M170.60,273.21L170.93,254.72M168.13,254.71A98.50,98.50 0 0 1 173.73,254.80M168.13,254.71L167.96,239.21M167.03,239.22A114.00,114.00 0 0 1 168.90,239.20M167.03,239.22L166.97,236.12M168.90,239.20L168.89,236.10M173.73,254.80L173.87,251.71M170.59,251.61A101.60,101.60 0 0 1 177.14,251.91M170.59,251.61L170.81,236.11M177.14,251.91L177.38,248.82M175.56,248.69A104.70,104.70 0 0 1 179.20,248.98M175.56,248.69L175.75,245.60M173.77,245.50A107.80,107.80 0 0 1 177.73,245.74M173.77,245.50L173.90,242.40M172.54,242.35A110.90,110.90 0 0 1 175.26,242.47M172.54,242.35L172.72,236.15M175.26,242.47L175.43,239.37M174.50,239.32A114.00,114.00 0 0 1 176.36,239.43M174.50,239.32L174.64,236.23M176.36,239.43L176.56,236.33M177.73,245.74L178.47,236.47M179.20,248.98L180.38,236.64M195.25,277.56L195.90,275.67M186.44,273.03A82.00,82.00 0 0 1 195.90,275.67M186.44,273.03L189.91,256.90M186.89,256.30A98.50,98.50 0 0 1 192.91,257.60M186.89,256.30L187.45,253.25M183.65,252.63A101.60,101.60 0 0 1 191.22,254.02M183.65,252.63L184.09,249.56M180.90,249.16A104.70,104.70 0 0 1 187.27,250.07M180.90,249.16L182.29,236.83M187.27,250.07L187.80,247.02M185.63,246.66A107.80,107.80 0 0 1 189.97,247.42M185.63,246.66L186.10,243.59M184.30,243.33A110.90,110.90 0 0 1 187.89,243.89M184.30,243.33L184.72,240.26M183.80,240.14A114.00,114.00 0 0 1 185.65,240.39M183.80,240.14L184.19,237.06M185.65,240.39L186.09,237.33M187.89,243.89L188.41,240.83M187.49,240.68A114.00,114.00 0 0 1 189.33,240.99M187.49,240.68L187.99,237.62M189.33,240.99L189.88,237.94M189.97,247.42L191.77,238.30M191.22,254.02L193.91,241.91M193.00,241.71A114.00,114.00 0 0 1 194.82,242.12M193.00,241.71L193.65,238.68M194.82,242.12L195.52,239.10M192.91,257.60L197.39,239.54M192.59,274.61L193.76,270.68M191.29,269.98A86.10,86.10 0 0 1 196.21,271.45M191.29,269.98L199.24,240.02M196.21,271.45L197.18,268.50M193.49,267.37A89.20,89.20 0 0 1 200.82,269.79M193.49,267.37L201.09,240.53M200.82,269.79L201.91,266.89M195.79,264.81A92.30,92.30 0 0 1 207.88,269.39M195.79,264.81L202.94,241.06M207.88,269.39L209.18,266.58M204.04,264.39A95.40,95.40 0 0 1 214.17,269.07M204.04,264.39L205.18,261.51M201.03,259.99A98.50,98.50 0 0 1 209.25,263.21M201.03,259.99L205.04,248.25M203.75,247.82A110.90,110.90 0 0 1 206.33,248.70M203.75,247.82L204.71,244.87M203.83,244.59A114.00,114.00 0 0 1 205.60,245.17M203.83,244.59L204.77,241.63M205.60,245.17L206.59,242.23M206.33,248.70L208.40,242.86M209.25,263.21L210.51,260.38M208.55,259.53A101.60,101.60 0 0 1 212.45,261.26M208.55,259.53L209.75,256.67M207.27,255.67A104.70,104.70 0 0 1 212.21,257.74M207.27,255.67L208.39,252.78M206.95,252.23A107.80,107.80 0 0 1 209.83,253.35M206.95,252.23L210.21,243.51M209.83,253.35L211.00,250.48M209.73,249.97A110.90,110.90 0 0 1 212.26,251.00M209.73,249.97L212.00,244.20M212.26,251.00L213.46,248.14M212.60,247.78A114.00,114.00 0 0 1 214.32,248.51M212.60,247.78L213.78,244.92M214.32,248.51L215.55,245.66M212.21,257.74L217.30,246.44M212.45,261.26L219.04,247.24M214.17,269.07L220.02,258.13M218.65,257.41A107.80,107.80 0 0 1 221.37,258.87M218.65,257.41L220.07,254.66M218.86,254.04A110.90,110.90 0 0 1 221.28,255.29M218.86,254.04L220.24,251.27M219.41,250.85A114.00,114.00 0 0 1 221.08,251.69M219.41,250.85L220.77,248.07M221.08,251.69L222.49,248.93M221.28,255.29L224.19,249.81M221.37,258.87L225.88,250.73M175.78,344.89L176.96,343.40M175.81,342.59A12.50,12.50 0 0 1 178.02,344.34M175.81,342.59L222.90,266.95M219.82,265.11A101.60,101.60 0 0 1 225.92,268.90M219.82,265.11L227.55,251.67M225.92,268.90L227.65,266.33M225.59,264.98A104.70,104.70 0 0 1 229.68,267.73M225.59,264.98L227.25,262.37M225.57,261.31A107.80,107.80 0 0 1 228.92,263.45M225.57,261.31L227.19,258.67M226.03,257.97A110.90,110.90 0 0 1 228.35,259.39M226.03,257.97L229.20,252.64M228.35,259.39L230.00,256.77M229.21,256.27A114.00,114.00 0 0 1 230.79,257.27M229.21,256.27L230.84,253.64M230.79,257.27L232.46,254.66M228.92,263.45L234.07,255.71M229.68,267.73L233.26,262.67M232.14,261.89A110.90,110.90 0 0 1 234.37,263.47M232.14,261.89L235.66,256.79M234.37,263.47L236.19,260.96M235.43,260.41A114.00,114.00 0 0 1 236.94,261.51M235.43,260.41L237.23,257.89M236.94,261.51L238.78,259.02M178.02,344.34L179.36,342.99M178.55,342.25A14.40,14.40 0 0 1 180.10,343.79M178.55,342.25L237.20,273.59M235.64,272.28A104.70,104.70 0 0 1 238.74,274.93M235.64,272.28L237.61,269.89M236.41,268.92A107.80,107.80 0 0 1 238.80,270.88M236.41,268.92L238.34,266.49M237.27,265.65A110.90,110.90 0 0 1 239.40,267.35M237.27,265.65L239.17,263.20M238.43,262.63A114.00,114.00 0 0 1 239.91,263.78M238.43,262.63L240.32,260.17M239.91,263.78L241.83,261.35M239.40,267.35L243.33,262.55M238.80,270.88L244.80,263.77M238.74,274.93L244.92,267.98M244.22,267.36A114.00,114.00 0 0 1 245.61,268.60M244.22,267.36L246.26,265.02M245.61,268.60L247.69,266.30M180.10,343.79L181.54,342.55M180.68,341.63A16.30,16.30 0 0 1 182.32,343.52M180.68,341.63L245.14,276.69M243.40,275.00A107.80,107.80 0 0 1 246.85,278.42M243.40,275.00L247.67,270.50M246.99,269.86A114.00,114.00 0 0 1 248.34,271.15M246.99,269.86L249.10,267.60M248.34,271.15L250.49,268.92M246.85,278.42L249.08,276.27M248.13,275.30A110.90,110.90 0 0 1 250.02,277.26M248.13,275.30L250.33,273.12M249.68,272.46A114.00,114.00 0 0 1 250.99,273.79M249.68,272.46L251.86,270.26M250.99,273.79L253.21,271.63M250.02,277.26L254.54,273.01M182.32,343.52L183.85,342.40M182.99,341.32A18.20,18.20 0 0 1 184.62,343.54M182.99,341.32L250.86,282.83M249.55,281.33A107.80,107.80 0 0 1 252.14,284.34M249.55,281.33L254.17,277.20M253.55,276.51A114.00,114.00 0 0 1 254.79,277.90M253.55,276.51L255.84,274.42M254.79,277.90L257.12,275.85M252.14,284.34L254.53,282.36M253.65,281.32A110.90,110.90 0 0 1 255.39,283.42M253.65,281.32L258.37,277.30M255.39,283.42L257.80,281.47M257.21,280.74A114.00,114.00 0 0 1 258.39,282.20M257.21,280.74L259.61,278.77M258.39,282.20L260.81,280.26M184.62,343.54L186.23,342.53M185.55,341.50A20.10,20.10 0 0 1 186.86,343.59M185.55,341.50L256.86,290.46M255.95,289.21A107.80,107.80 0 0 1 257.75,291.72M255.95,289.21L258.45,287.37M257.63,286.28A110.90,110.90 0 0 1 259.25,288.47M257.63,286.28L260.11,284.41M259.54,283.67A114.00,114.00 0 0 1 260.67,285.16M259.54,283.67L262.00,281.78M260.67,285.16L263.15,283.31M259.25,288.47L264.29,284.85M257.75,291.72L265.39,286.42M186.86,343.59L188.53,342.69M187.82,341.48A22.00,22.00 0 0 1 189.16,343.94M187.82,341.48L260.42,295.76M258.88,293.39A107.80,107.80 0 0 1 261.89,298.16M258.88,293.39L266.62,288.23M261.89,298.16L264.56,296.58M263.35,294.60A110.90,110.90 0 0 1 265.72,298.59M263.35,294.60L265.98,292.96M265.35,291.95A114.00,114.00 0 0 1 266.61,293.97M265.35,291.95L267.96,290.28M266.61,293.97L269.26,292.36M265.72,298.59L268.42,297.06M267.83,296.03A114.00,114.00 0 0 1 269.00,298.11M267.83,296.03L270.51,294.47M269.00,298.11L271.72,296.61M189.16,343.94L190.88,343.14M190.44,342.24A23.90,23.90 0 0 1 191.28,344.06M190.44,342.24L270.50,300.91M270.04,300.03A114.00,114.00 0 0 1 270.95,301.80M270.04,300.03L272.78,298.59M270.95,301.80L273.72,300.40M191.28,344.06L193.04,343.33M192.57,342.28A25.80,25.80 0 0 1 193.46,344.41M192.57,342.28L269.67,306.24M269.05,304.93A110.90,110.90 0 0 1 270.27,307.56M269.05,304.93L274.63,302.23M270.27,307.56L273.10,306.29M272.69,305.38A114.00,114.00 0 0 1 273.51,307.20M272.69,305.38L275.50,304.08M273.51,307.20L276.34,305.94M193.46,344.41L195.24,343.76M194.83,342.69A27.70,27.70 0 0 1 195.61,344.86M194.83,342.69L274.67,309.94M274.29,309.02A114.00,114.00 0 0 1 275.05,310.86M274.29,309.02L277.15,307.82M275.05,310.86L277.93,309.71M195.61,344.86L197.42,344.28M197.01,343.05A29.60,29.60 0 0 1 197.79,345.53M197.01,343.05L273.38,315.18M272.87,313.82A110.90,110.90 0 0 1 273.87,316.55M272.87,313.82L278.67,311.62M273.87,316.55L276.79,315.52M276.46,314.58A114.00,114.00 0 0 1 277.12,316.46M276.46,314.58L279.38,313.53M277.12,316.46L280.05,315.46M197.79,345.53L199.62,345.04M199.27,343.83A31.50,31.50 0 0 1 199.93,346.26M199.27,343.83L278.04,319.30M277.74,318.35A114.00,114.00 0 0 1 278.33,320.25M277.74,318.35L280.69,317.40M278.33,320.25L281.30,319.35M199.93,346.26L201.78,345.84M201.42,344.39A33.40,33.40 0 0 1 202.08,347.31M201.42,344.39L279.16,323.12M278.89,322.16A114.00,114.00 0 0 1 279.42,324.08M278.89,322.16L281.88,321.32M279.42,324.08L282.42,323.29M202.08,347.31L203.95,346.97M203.62,345.38A35.30,35.30 0 0 1 204.20,348.58M203.62,345.38L277.35,328.63M277.06,327.42A110.90,110.90 0 0 1 277.61,329.85M277.06,327.42L280.08,326.70M279.88,325.87A114.00,114.00 0 0 1 280.27,327.53M279.88,325.87L282.89,325.13M280.27,327.53L283.29,326.83M277.61,329.85L283.68,328.55M204.20,348.58L206.08,348.33M205.77,346.39A37.20,37.20 0 0 1 206.29,350.28M205.77,346.39L275.18,333.47M274.91,332.09A107.80,107.80 0 0 1 275.43,334.86M274.91,332.09L284.03,330.26M275.43,334.86L278.48,334.34M278.27,333.11A110.90,110.90 0 0 1 278.69,335.57M278.27,333.11L284.36,331.99M278.69,335.57L281.75,335.07M281.61,334.23A114.00,114.00 0 0 1 281.88,335.92M281.61,334.23L284.67,333.71M281.88,335.92L284.95,335.45M206.29,350.28L208.18,350.13M208.03,348.58A39.10,39.10 0 0 1 208.27,351.70M208.03,348.58L279.32,340.09M279.17,338.85A110.90,110.90 0 0 1 279.46,341.33M279.17,338.85L282.24,338.45M282.13,337.61A114.00,114.00 0 0 1 282.35,339.30M282.13,337.61L285.20,337.18M282.35,339.30L285.43,338.92M279.46,341.33L285.63,340.66M208.27,351.70L210.17,351.62M210.05,349.73A41.00,41.00 0 0 1 210.20,353.52M210.05,349.73L282.79,343.55M282.72,342.70A114.00,114.00 0 0 1 282.86,344.40M282.72,342.70L285.80,342.41M282.86,344.40L285.95,344.16M210.20,353.52L212.10,353.54M212.09,352.17A42.90,42.90 0 0 1 212.07,354.90M212.09,352.17L273.87,350.70M273.79,348.44A104.70,104.70 0 0 1 273.90,352.95M273.79,348.44L276.89,348.30M276.79,346.49A107.80,107.80 0 0 1 276.96,350.12M276.79,346.49L286.07,345.91M276.96,350.12L280.05,350.03M280.01,348.78A110.90,110.90 0 0 1 280.08,351.27M280.01,348.78L283.11,348.66M283.07,347.81A114.00,114.00 0 0 1 283.14,349.51M283.07,347.81L286.17,347.66M283.14,349.51L286.24,349.41M280.08,351.27L286.28,351.17M273.90,352.95L286.30,352.92M212.07,354.90L213.96,354.98M213.97,354.76A44.80,44.80 0 0 1 213.96,355.19M213.96,355.19L276.89,357.99M276.97,355.77A107.80,107.80 0 0 1 276.77,360.21M276.97,355.77L280.07,355.84M280.09,354.60A110.90,110.90 0 0 1 280.03,357.09M280.09,354.60L286.29,354.68M280.03,357.09L283.13,357.20M283.16,356.34A114.00,114.00 0 0 1 283.10,358.05M283.16,356.34L286.26,356.43M283.10,358.05L286.19,358.18M276.77,360.21L282.96,360.61M283.01,359.76A114.00,114.00 0 0 1 282.90,361.46M283.01,359.76L286.11,359.94M282.90,361.46L285.99,361.69M213.97,354.76L226.17,355.19M226.17,355.19A57.00,57.00 0 0 1 225.33,363.10M225.48,362.22L266.46,368.79M267.06,364.42A98.50,98.50 0 0 1 265.67,373.12M267.06,364.42L270.14,364.78M270.34,362.84A101.60,101.60 0 0 1 269.90,366.71M270.34,362.84L282.69,364.01M282.76,363.16A114.00,114.00 0 0 1 282.60,364.86M282.76,363.16L285.85,363.43M282.60,364.86L285.69,365.18M269.90,366.71L272.97,367.12M273.18,365.47A104.70,104.70 0 0 1 272.74,368.77M273.18,365.47L285.49,366.92M272.74,368.77L275.80,369.24M276.06,367.44A107.80,107.80 0 0 1 275.52,371.03M276.06,367.44L285.27,368.67M275.52,371.03L278.57,371.54M278.77,370.31A110.90,110.90 0 0 1 278.36,372.77M278.77,370.31L281.83,370.79M281.96,369.95A114.00,114.00 0 0 1 281.70,371.63M281.96,369.95L285.03,370.40M281.70,371.63L284.76,372.14M278.36,372.77L284.46,373.87M265.67,373.12L277.81,375.63M278.05,374.40A110.90,110.90 0 0 1 277.55,376.84M278.05,374.40L284.14,375.59M277.55,376.84L280.58,377.51M280.76,376.67A114.00,114.00 0 0 1 280.39,378.34M280.76,376.67L283.79,377.31M280.39,378.34L283.42,379.02M225.33,363.10L227.30,363.45M227.30,363.45A59.00,59.00 0 0 1 223.90,375.30M225.08,372.14L265.42,385.81M266.99,380.77A101.60,101.60 0 0 1 263.60,390.76M266.99,380.77L272.96,382.45M273.69,379.72A107.80,107.80 0 0 1 272.15,385.16M273.69,379.72L276.69,380.48M276.99,379.27A110.90,110.90 0 0 1 276.38,381.69M276.99,379.27L283.02,380.73M276.38,381.69L279.37,382.49M279.59,381.66A114.00,114.00 0 0 1 279.15,383.31M279.59,381.66L282.59,382.43M279.15,383.31L282.14,384.13M272.15,385.16L275.11,386.08M275.48,384.89A110.90,110.90 0 0 1 274.74,387.27M275.48,384.89L278.45,385.77M278.69,384.95A114.00,114.00 0 0 1 278.20,386.59M278.69,384.95L281.67,385.82M278.20,386.59L281.16,387.50M274.74,387.27L280.64,389.17M263.60,390.76L266.48,391.91M267.36,389.62A104.70,104.70 0 0 1 265.55,394.18M267.36,389.62L270.27,390.70M271.02,388.61A107.80,107.80 0 0 1 269.47,392.78M271.02,388.61L276.87,390.65M277.15,389.84A114.00,114.00 0 0 1 276.59,391.45M277.15,389.84L280.09,390.84M276.59,391.45L279.51,392.49M269.47,392.78L272.36,393.91M272.81,392.75A110.90,110.90 0 0 1 271.89,395.07M272.81,392.75L275.70,393.86M276.00,393.06A114.00,114.00 0 0 1 275.40,394.65M276.00,393.06L278.91,394.14M275.40,394.65L278.28,395.78M271.89,395.07L277.63,397.41M265.55,394.18L276.96,399.03M223.90,375.30L225.76,376.05M225.76,376.05A61.00,61.00 0 0 1 218.55,389.05M221.67,384.32L253.92,403.45M256.68,398.47A98.50,98.50 0 0 1 250.87,408.26M256.68,398.47L259.44,399.89M261.14,396.44A101.60,101.60 0 0 1 257.60,403.28M261.14,396.44L269.56,400.40M270.25,398.89A110.90,110.90 0 0 1 268.84,401.89M270.25,398.89L273.08,400.16M273.43,399.38A114.00,114.00 0 0 1 272.72,400.94M273.43,399.38L276.26,400.64M272.72,400.94L275.54,402.24M268.84,401.89L271.62,403.25M272.00,402.49A114.00,114.00 0 0 1 271.25,404.02M272.00,402.49L274.79,403.83M271.25,404.02L274.02,405.40M257.60,403.28L260.30,404.81M261.29,403.01A104.70,104.70 0 0 1 259.27,406.59M261.29,403.01L266.75,405.96M267.33,404.86A110.90,110.90 0 0 1 266.15,407.05M267.33,404.86L270.08,406.30M270.47,405.54A114.00,114.00 0 0 1 269.68,407.05M270.47,405.54L273.23,406.97M269.68,407.05L272.41,408.52M266.15,407.05L271.57,410.06M259.27,406.59L261.93,408.17M262.64,406.95A107.80,107.80 0 0 1 261.20,409.38M262.64,406.95L270.71,411.59M261.20,409.38L263.85,411.00M264.49,409.93A110.90,110.90 0 0 1 263.19,412.06M264.49,409.93L269.82,413.10M263.19,412.06L265.82,413.70M266.27,412.98A114.00,114.00 0 0 1 265.37,414.42M266.27,412.98L268.91,414.60M265.37,414.42L267.98,416.09M250.87,408.26L261.16,415.19M261.85,414.15A110.90,110.90 0 0 1 260.45,416.22M261.85,414.15L267.03,417.56M260.45,416.22L263.00,417.98M263.49,417.28A114.00,114.00 0 0 1 262.52,418.68M263.49,417.28L266.05,419.02M262.52,418.68L265.05,420.46M218.55,389.05L220.17,390.23M220.17,390.23A63.00,63.00 0 0 1 207.99,402.84M213.94,397.55L232.55,415.99M236.82,411.37A89.20,89.20 0 0 1 227.96,420.31M236.82,411.37L239.17,413.39M242.92,408.73A92.30,92.30 0 0 1 235.13,417.79M242.92,408.73L257.78,419.92M258.53,418.93A110.90,110.90 0 0 1 257.03,420.92M258.53,418.93L261.02,420.76M261.53,420.07A114.00,114.00 0 0 1 260.51,421.45M261.53,420.07L264.04,421.89M260.51,421.45L263.00,423.30M257.03,420.92L261.94,424.70M235.13,417.79L237.35,419.96M241.32,415.65A95.40,95.40 0 0 1 233.12,424.02M241.32,415.65L243.66,417.68M245.60,415.37A98.50,98.50 0 0 1 241.65,419.93M245.60,415.37L255.22,423.20M256.00,422.22A110.90,110.90 0 0 1 254.43,424.16M256.00,422.22L260.85,426.08M254.43,424.16L256.81,426.14M257.35,425.48A114.00,114.00 0 0 1 256.26,426.79M257.35,425.48L259.75,427.45M256.26,426.79L258.63,428.80M241.65,419.93L243.93,422.04M245.80,419.94A101.60,101.60 0 0 1 242.00,424.07M245.80,419.94L257.49,430.13M242.00,424.07L244.22,426.24M245.77,424.60A104.70,104.70 0 0 1 242.63,427.83M245.77,424.60L250.31,428.83M251.15,427.91A110.90,110.90 0 0 1 249.45,429.74M251.15,427.91L253.45,430.00M254.02,429.37A114.00,114.00 0 0 1 252.87,430.63M254.02,429.37L256.32,431.44M252.87,430.63L255.14,432.74M249.45,429.74L253.94,434.02M242.63,427.83L244.80,430.04M246.09,428.76A107.80,107.80 0 0 1 243.50,431.31M246.09,428.76L252.72,435.28M243.50,431.31L245.63,433.55M246.53,432.69A110.90,110.90 0 0 1 244.73,434.41M246.53,432.69L248.69,434.91M249.30,434.31A114.00,114.00 0 0 1 248.08,435.50M249.30,434.31L251.48,436.52M248.08,435.50L250.22,437.74M244.73,434.41L248.95,438.95M233.12,424.02L247.66,440.13M227.96,420.31L246.34,441.30M207.99,402.84L209.22,404.42M209.22,404.42A65.00,65.00 0 0 1 193.55,413.47M202.55,408.99L218.15,435.08M222.92,432.03A95.40,95.40 0 0 1 213.21,437.84M222.92,432.03L224.67,434.60M228.91,431.54A98.50,98.50 0 0 1 220.27,437.43M228.91,431.54L230.79,434.00M233.15,432.15A101.60,101.60 0 0 1 228.38,435.78M233.15,432.15L235.10,434.56M236.99,432.99A104.70,104.70 0 0 1 233.18,436.08M236.99,432.99L245.02,442.44M233.18,436.08L235.07,438.53M236.19,437.66A107.80,107.80 0 0 1 233.95,439.39M236.19,437.66L238.11,440.09M239.08,439.31A110.90,110.90 0 0 1 237.13,440.86M239.08,439.31L241.04,441.72M241.70,441.18A114.00,114.00 0 0 1 240.37,442.25M241.70,441.18L243.67,443.57M240.37,442.25L242.31,444.67M237.13,440.86L240.93,445.76M233.95,439.39L239.53,446.82M228.38,435.78L235.61,445.86M236.30,445.36A114.00,114.00 0 0 1 234.91,446.36M236.30,445.36L238.12,447.87M234.91,446.36L236.70,448.89M220.27,437.43L223.48,442.73M226.80,440.63A104.70,104.70 0 0 1 220.09,444.70M226.80,440.63L228.50,443.22M230.01,442.21A107.80,107.80 0 0 1 226.98,444.21M230.01,442.21L235.26,449.89M226.98,444.21L228.64,446.83M229.69,446.15A110.90,110.90 0 0 1 227.58,447.49M229.69,446.15L231.38,448.75M232.09,448.28A114.00,114.00 0 0 1 230.66,449.21M232.09,448.28L233.80,450.87M230.66,449.21L232.33,451.83M227.58,447.49L230.85,452.76M220.09,444.70L221.60,447.41M222.83,446.71A107.80,107.80 0 0 1 220.36,448.09M222.83,446.71L224.37,449.40M225.45,448.78A110.90,110.90 0 0 1 223.29,450.02M225.45,448.78L227.02,451.45M227.76,451.01A114.00,114.00 0 0 1 226.28,451.88M227.76,451.01L229.35,453.67M226.28,451.88L227.84,454.56M223.29,450.02L226.31,455.43M220.36,448.09L224.77,456.27M213.21,437.84L223.22,457.09M193.55,413.47L194.30,415.32M194.30,415.32A67.00,67.00 0 0 1 176.20,419.83M185.96,418.07L192.29,442.57M196.11,441.49A92.30,92.30 0 0 1 188.42,443.48M196.11,441.49L197.01,444.46M201.75,442.88A95.40,95.40 0 0 1 192.20,445.78M201.75,442.88L202.81,445.79M206.57,444.34A98.50,98.50 0 0 1 198.99,447.09M206.57,444.34L207.75,447.20M210.50,446.03A101.60,101.60 0 0 1 204.96,448.30M210.50,446.03L211.76,448.86M214.87,447.41A104.70,104.70 0 0 1 208.60,450.20M214.87,447.41L216.23,450.20M217.49,449.58A107.80,107.80 0 0 1 214.95,450.81M217.49,449.58L221.66,457.89M214.95,450.81L216.27,453.62M217.39,453.08A110.90,110.90 0 0 1 215.13,454.14M217.39,453.08L220.09,458.67M215.13,454.14L216.42,456.96M217.19,456.60A114.00,114.00 0 0 1 215.64,457.31M217.19,456.60L218.50,459.42M215.64,457.31L216.90,460.14M208.60,450.20L210.94,455.95M212.09,455.47A110.90,110.90 0 0 1 209.78,456.41M212.09,455.47L213.29,458.33M214.07,458.00A114.00,114.00 0 0 1 212.50,458.66M214.07,458.00L215.30,460.85M212.50,458.66L213.68,461.52M209.78,456.41L212.05,462.18M204.96,448.30L210.41,462.81M198.99,447.09L201.80,455.95M203.72,455.32A107.80,107.80 0 0 1 199.87,456.55M203.72,455.32L204.71,458.26M205.89,457.86A110.90,110.90 0 0 1 203.53,458.65M205.89,457.86L206.91,460.78M207.72,460.50A114.00,114.00 0 0 1 206.11,461.06M207.72,460.50L208.77,463.41M206.11,461.06L207.11,463.99M203.53,458.65L205.45,464.55M199.87,456.55L200.75,459.52M201.94,459.16A110.90,110.90 0 0 1 199.55,459.87M201.94,459.16L203.77,465.08M199.55,459.87L200.40,462.85M201.22,462.61A114.00,114.00 0 0 1 199.58,463.08M201.22,462.61L202.09,465.59M199.58,463.08L200.41,466.07M192.20,445.78L195.94,460.83M197.15,460.52A110.90,110.90 0 0 1 194.73,461.12M197.15,460.52L198.71,466.52M194.73,461.12L195.44,464.14M196.27,463.94A114.00,114.00 0 0 1 194.61,464.33M196.27,463.94L197.01,466.95M194.61,464.33L195.30,467.35M188.42,443.48L193.59,467.73M176.20,419.83L176.41,421.82M177.35,421.72A69.00,69.00 0 0 1 157.22,421.15M177.35,421.72L180.10,444.85M186.39,443.88A92.30,92.30 0 0 1 173.75,445.39M186.39,443.88L190.43,465.21M191.27,465.04A114.00,114.00 0 0 1 189.59,465.36M191.27,465.04L191.87,468.08M189.59,465.36L190.15,468.41M173.75,445.39L173.91,448.48M179.97,447.99A95.40,95.40 0 0 1 167.82,448.59M179.97,447.99L180.32,451.07M185.37,450.36A98.50,98.50 0 0 1 175.24,451.51M185.37,450.36L188.42,468.71M175.24,451.51L175.44,454.61M178.61,454.36A101.60,101.60 0 0 1 172.25,454.75M178.61,454.36L178.90,457.45M181.92,457.12A104.70,104.70 0 0 1 175.87,457.69M181.92,457.12L182.30,460.20M184.50,459.91A107.80,107.80 0 0 1 180.09,460.45M184.50,459.91L185.38,466.05M186.22,465.92A114.00,114.00 0 0 1 184.53,466.16M186.22,465.92L186.69,468.99M184.53,466.16L184.95,469.24M180.09,460.45L180.40,463.53M181.64,463.40A110.90,110.90 0 0 1 179.16,463.65M181.64,463.40L181.99,466.48M182.84,466.38A114.00,114.00 0 0 1 181.14,466.57M182.84,466.38L183.21,469.46M181.14,466.57L181.47,469.66M179.16,463.65L179.72,469.83M175.87,457.69L176.27,463.87M177.51,463.79A110.90,110.90 0 0 1 175.02,463.95M177.51,463.79L177.97,469.97M175.02,463.95L175.18,467.04M176.04,466.99A114.00,114.00 0 0 1 174.33,467.08M176.04,466.99L176.22,470.09M174.33,467.08L174.47,470.18M172.25,454.75L172.72,470.25M167.82,448.59L167.73,454.79M170.73,454.79A101.60,101.60 0 0 1 164.74,454.70M170.73,454.79L170.96,470.29M164.74,454.70L164.60,457.80M166.27,457.86A104.70,104.70 0 0 1 162.94,457.71M166.27,457.86L166.18,460.96M168.00,460.99A107.80,107.80 0 0 1 164.36,460.89M168.00,460.99L167.96,464.09M169.21,464.10A110.90,110.90 0 0 1 166.72,464.07M169.21,464.10L169.21,470.30M166.72,464.07L166.65,467.17M167.50,467.19A114.00,114.00 0 0 1 165.79,467.15M167.50,467.19L167.45,470.29M165.79,467.15L165.70,470.25M164.36,460.89L163.95,470.18M162.94,457.71L162.20,470.09M157.22,421.15L156.87,423.12M156.87,423.12A71.00,71.00 0 0 1 135.87,415.89M153.90,422.53L147.98,449.39M156.84,450.92A98.50,98.50 0 0 1 139.30,447.05M156.84,450.92L156.45,454.00M158.76,454.26A101.60,101.60 0 0 1 154.14,453.68M158.76,454.26L158.12,460.43M159.93,460.60A107.80,107.80 0 0 1 156.32,460.23M159.93,460.60L159.67,463.69M160.91,463.79A110.90,110.90 0 0 1 158.43,463.58M160.91,463.79L160.45,469.97M158.43,463.58L158.12,466.66M158.97,466.74A114.00,114.00 0 0 1 157.28,466.57M158.97,466.74L158.70,469.83M157.28,466.57L156.95,469.66M156.32,460.23L155.21,469.46M154.14,453.68L153.68,456.74M155.13,456.95A104.70,104.70 0 0 1 152.22,456.51M155.13,456.95L153.47,469.24M152.22,456.51L151.72,459.57M153.12,459.79A107.80,107.80 0 0 1 150.33,459.34M153.12,459.79L151.73,468.99M150.33,459.34L149.79,462.39M151.01,462.60A110.90,110.90 0 0 1 148.56,462.16M151.01,462.60L150.00,468.71M148.56,462.16L147.98,465.21M148.82,465.36A114.00,114.00 0 0 1 147.15,465.05M148.82,465.36L148.27,468.41M147.15,465.05L146.55,468.09M139.30,447.05L138.36,450.00M142.23,451.16A101.60,101.60 0 0 1 134.53,448.70M142.23,451.16L141.41,454.14M144.16,454.86A104.70,104.70 0 0 1 138.68,453.35M144.16,454.86L143.42,457.87M145.58,458.38A107.80,107.80 0 0 1 141.27,457.32M145.58,458.38L144.90,461.41M146.12,461.67A110.90,110.90 0 0 1 143.69,461.13M146.12,461.67L144.83,467.74M143.69,461.13L142.97,464.14M143.80,464.34A114.00,114.00 0 0 1 142.14,463.94M143.80,464.34L143.11,467.36M142.14,463.94L141.41,466.95M141.27,457.32L139.66,463.31M140.49,463.52A114.00,114.00 0 0 1 138.84,463.08M140.49,463.52L139.71,466.52M138.84,463.08L138.01,466.07M138.68,453.35L136.87,459.28M138.06,459.64A110.90,110.90 0 0 1 135.68,458.91M138.06,459.64L136.32,465.59M135.68,458.91L134.74,461.87M135.56,462.12A114.00,114.00 0 0 1 133.93,461.61M135.56,462.12L134.64,465.09M133.93,461.61L132.97,464.55M134.53,448.70L131.35,457.44M132.53,457.86A110.90,110.90 0 0 1 130.19,457.01M132.53,457.86L131.50,460.79M132.31,461.07A114.00,114.00 0 0 1 130.70,460.50M132.31,461.07L131.31,464.00M130.70,460.50L129.65,463.42M130.19,457.01L128.00,462.81M135.87,415.89L134.93,417.66M134.93,417.66A73.00,73.00 0 0 1 116.69,403.91M129.68,414.58L124.27,422.99M130.51,426.63A83.00,83.00 0 0 1 118.37,418.81M130.51,426.63L129.06,429.37M137.71,433.33A86.10,86.10 0 0 1 120.91,424.48M137.71,433.33L126.37,462.19M120.91,424.48L119.17,427.05M122.83,429.40A89.20,89.20 0 0 1 115.63,424.53M122.83,429.40L121.22,432.05M127.87,435.73A92.30,92.30 0 0 1 114.88,427.83M127.87,435.73L126.48,438.50M132.98,441.46A95.40,95.40 0 0 1 120.23,435.07M132.98,441.46L124.74,461.53M120.23,435.07L118.64,437.73M122.67,440.02A98.50,98.50 0 0 1 114.72,435.26M122.67,440.02L121.21,442.75M124.29,444.34A101.60,101.60 0 0 1 118.17,441.06M124.29,444.34L122.92,447.12M125.67,448.42A104.70,104.70 0 0 1 120.22,445.74M125.67,448.42L124.38,451.24M126.04,451.98A107.80,107.80 0 0 1 122.73,450.47M126.04,451.98L123.56,457.66M124.34,458.00A114.00,114.00 0 0 1 122.78,457.32M124.34,458.00L123.12,460.85M122.78,457.32L121.51,460.15M122.73,450.47L121.40,453.27M122.53,453.80A110.90,110.90 0 0 1 120.28,452.73M122.53,453.80L119.92,459.42M120.28,452.73L118.91,455.51M119.68,455.88A114.00,114.00 0 0 1 118.14,455.13M119.68,455.88L118.33,458.67M118.14,455.13L116.76,457.90M120.22,445.74L115.87,453.96M116.62,454.35A114.00,114.00 0 0 1 115.11,453.55M116.62,454.35L115.19,457.10M115.11,453.55L113.64,456.28M118.17,441.06L115.06,446.42M116.64,447.32A107.80,107.80 0 0 1 113.50,445.49M116.64,447.32L112.11,455.44M113.50,445.49L111.90,448.15M112.97,448.79A110.90,110.90 0 0 1 110.83,447.50M112.97,448.79L111.39,451.46M112.13,451.89A114.00,114.00 0 0 1 110.66,451.02M112.13,451.89L110.58,454.57M110.66,451.02L109.07,453.68M110.83,447.50L107.57,452.77M114.72,435.26L109.57,443.01M111.10,444.00A107.80,107.80 0 0 1 108.07,441.99M111.10,444.00L106.08,451.83M108.07,441.99L106.31,444.54M107.34,445.25A110.90,110.90 0 0 1 105.29,443.83M107.34,445.25L105.61,447.82M106.32,448.29A114.00,114.00 0 0 1 104.91,447.34M106.32,448.29L104.61,450.88M104.91,447.34L103.16,449.90M105.29,443.83L101.72,448.90M114.88,427.83L100.29,447.88M115.63,424.53L98.88,446.83M118.37,418.81L97.48,445.77M116.69,403.91L115.25,405.30M115.25,405.30A75.00,75.00 0 0 1 100.68,383.71M114.51,404.52L113.41,405.55M121.00,412.61A76.50,76.50 0 0 1 106.85,397.52M121.00,412.61L97.38,441.73M98.04,442.26A114.00,114.00 0 0 1 96.71,441.19M98.04,442.26L96.11,444.69M96.71,441.19L94.74,443.58M106.85,397.52L105.62,398.39M106.93,400.18A78.00,78.00 0 0 1 104.37,396.57M106.93,400.18L105.42,401.32M107.10,403.48A79.90,79.90 0 0 1 103.80,399.11M107.10,403.48L104.70,405.43M107.59,408.82A83.00,83.00 0 0 1 101.99,401.90M107.59,408.82L105.29,410.89M109.70,415.44A86.10,86.10 0 0 1 101.22,406.04M109.70,415.44L107.56,417.68M111.46,421.19A89.20,89.20 0 0 1 103.87,413.94M111.46,421.19L93.40,442.46M103.87,413.94L101.60,416.05M105.63,420.12A92.30,92.30 0 0 1 97.83,411.73M105.63,420.12L103.50,422.37M105.03,423.79A95.40,95.40 0 0 1 102.00,420.92M105.03,423.79L94.60,435.26M95.53,436.09A110.90,110.90 0 0 1 93.69,434.42M95.53,436.09L93.47,438.41M94.11,438.98A114.00,114.00 0 0 1 92.83,437.84M94.11,438.98L92.07,441.31M92.83,437.84L90.76,440.14M93.69,434.42L89.46,438.96M102.00,420.92L99.82,423.12M101.06,424.32A98.50,98.50 0 0 1 98.60,421.89M101.06,424.32L88.19,437.75M98.60,421.89L96.38,424.05M97.82,425.50A101.60,101.60 0 0 1 94.97,422.57M97.82,425.50L86.93,436.53M94.97,422.57L92.70,424.69M94.53,426.60A104.70,104.70 0 0 1 90.92,422.73M94.53,426.60L85.69,435.29M90.92,422.73L88.60,424.79M89.82,426.14A107.80,107.80 0 0 1 87.41,423.42M89.82,426.14L87.54,428.23M88.39,429.15A110.90,110.90 0 0 1 86.70,427.31M88.39,429.15L86.13,431.27M86.71,431.89A114.00,114.00 0 0 1 85.54,430.65M86.71,431.89L84.47,434.03M85.54,430.65L83.27,432.75M86.70,427.31L82.09,431.45M87.41,423.42L82.70,427.46M83.26,428.10A114.00,114.00 0 0 1 82.15,426.81M83.26,428.10L80.92,430.14M82.15,426.81L79.78,428.81M97.83,411.73L78.66,427.46M101.22,406.04L81.64,421.26M82.41,422.24A110.90,110.90 0 0 1 80.88,420.27M82.41,422.24L77.56,426.10M80.88,420.27L78.41,422.14M78.93,422.82A114.00,114.00 0 0 1 77.90,421.46M78.93,422.82L76.48,424.72M77.90,421.46L75.41,423.32M101.99,401.90L74.37,421.91M103.80,399.11L73.36,420.48M104.37,396.57L74.44,416.58M74.92,417.29A114.00,114.00 0 0 1 73.97,415.87M74.92,417.29L72.36,419.03M73.97,415.87L71.38,417.58M100.68,383.71L98.86,384.52M98.86,384.52A77.00,77.00 0 0 1 93.37,366.57M97.26,380.65L85.86,385.00M88.06,390.25A89.20,89.20 0 0 1 84.00,379.62M88.06,390.25L85.24,391.54M87.36,395.87A92.30,92.30 0 0 1 83.35,387.10M87.36,395.87L84.61,397.30M87.75,402.87A95.40,95.40 0 0 1 81.84,391.54M87.75,402.87L85.11,404.49M86.12,406.11A98.50,98.50 0 0 1 84.13,402.84M86.12,406.11L70.43,416.10M84.13,402.84L81.45,404.41M82.70,406.49A101.60,101.60 0 0 1 80.25,402.30M82.70,406.49L69.50,414.62M80.25,402.30L77.54,403.79M78.84,406.10A104.70,104.70 0 0 1 76.29,401.46M78.84,406.10L70.82,410.79M71.25,411.53A114.00,114.00 0 0 1 70.39,410.06M71.25,411.53L68.59,413.12M70.39,410.06L67.70,411.60M76.29,401.46L73.54,402.89M74.58,404.85A107.80,107.80 0 0 1 72.53,400.91M74.58,404.85L69.14,407.82M69.55,408.57A114.00,114.00 0 0 1 68.73,407.07M69.55,408.57L66.84,410.07M68.73,407.07L66.00,408.53M72.53,400.91L69.75,402.28M70.31,403.40A110.90,110.90 0 0 1 69.21,401.16M70.31,403.40L67.55,404.80M67.94,405.56A114.00,114.00 0 0 1 67.16,404.04M67.94,405.56L65.18,406.98M67.16,404.04L64.39,405.42M69.21,401.16L63.62,403.84M81.84,391.54L67.65,397.76M68.15,398.90A110.90,110.90 0 0 1 67.15,396.62M68.15,398.90L65.33,400.18M65.69,400.96A114.00,114.00 0 0 1 64.98,399.40M65.69,400.96L62.87,402.25M64.98,399.40L62.15,400.66M67.15,396.62L61.45,399.05M83.35,387.10L66.05,393.93M66.51,395.09A110.90,110.90 0 0 1 65.60,392.77M66.51,395.09L60.77,397.43M65.60,392.77L62.70,393.87M63.01,394.67A114.00,114.00 0 0 1 62.40,393.08M63.01,394.67L60.12,395.80M62.40,393.08L59.50,394.16M84.00,379.62L72.16,383.29M73.24,386.59A101.60,101.60 0 0 1 71.19,379.96M73.24,386.59L61.53,390.67M61.82,391.47A114.00,114.00 0 0 1 61.25,389.86M61.82,391.47L58.90,392.51M61.25,389.86L58.32,390.85M71.19,379.96L68.20,380.77M68.59,382.19A104.70,104.70 0 0 1 67.82,379.35M68.59,382.19L65.61,383.05M66.01,384.40A107.80,107.80 0 0 1 65.23,381.69M66.01,384.40L63.05,385.30M63.42,386.49A110.90,110.90 0 0 1 62.69,384.11M63.42,386.49L60.46,387.42M60.72,388.24A114.00,114.00 0 0 1 60.20,386.61M60.72,388.24L57.77,389.19M60.20,386.61L57.24,387.52M62.69,384.11L56.74,385.83M65.23,381.69L56.26,384.15M67.82,379.35L55.81,382.45M93.37,366.57L91.40,366.92M91.40,366.92A79.00,79.00 0 0 1 90.25,355.96M91.39,366.86L66.08,371.31M66.51,373.62A104.70,104.70 0 0 1 65.70,368.98M66.51,373.62L63.47,374.22M63.88,376.20A107.80,107.80 0 0 1 63.09,372.24M63.88,376.20L60.85,376.86M61.22,378.48A110.90,110.90 0 0 1 60.51,375.24M61.22,378.48L58.20,379.19M58.40,380.02A114.00,114.00 0 0 1 58.01,378.36M58.40,380.02L55.39,380.75M58.01,378.36L54.99,379.04M60.51,375.24L57.47,375.85M57.65,376.69A114.00,114.00 0 0 1 57.31,375.01M57.65,376.69L54.61,377.33M57.31,375.01L54.26,375.61M63.09,372.24L53.94,373.88M65.70,368.98L59.57,369.92M59.76,371.15A110.90,110.90 0 0 1 59.39,368.69M59.76,371.15L53.64,372.15M59.39,368.69L56.32,369.12M56.44,369.96A114.00,114.00 0 0 1 56.20,368.27M56.44,369.96L53.37,370.42M56.20,368.27L53.13,368.68M90.25,355.96L87.25,356.06M87.38,358.70A82.00,82.00 0 0 1 87.65,344.63M87.38,358.70L61.64,360.42M61.89,363.44A107.80,107.80 0 0 1 61.48,357.40M61.89,363.44L58.80,363.74M58.97,365.39A110.90,110.90 0 0 1 58.66,362.08M58.97,365.39L55.89,365.73M55.99,366.58A114.00,114.00 0 0 1 55.80,364.88M55.99,366.58L52.91,366.94M55.80,364.88L52.72,365.20M58.66,362.08L55.57,362.33M55.64,363.18A114.00,114.00 0 0 1 55.50,361.48M55.64,363.18L52.55,363.45M55.50,361.48L52.41,361.70M61.48,357.40L58.38,357.52M58.44,358.77A110.90,110.90 0 0 1 58.34,356.28M58.44,358.77L55.34,358.92M55.39,359.77A114.00,114.00 0 0 1 55.30,358.07M55.39,359.77L52.29,359.95M55.30,358.07L52.21,358.20M58.34,356.28L52.15,356.45M87.65,344.63L84.67,344.32M84.21,352.06A85.00,85.00 0 0 1 86.38,334.08M84.21,352.06L67.61,351.83M67.61,354.50A101.60,101.60 0 0 1 67.68,349.17M67.61,354.50L52.11,354.69M67.68,349.17L64.58,349.05M64.50,352.18A104.70,104.70 0 0 1 64.75,345.91M64.50,352.18L55.21,352.09M55.20,352.95A114.00,114.00 0 0 1 55.22,351.24M55.20,352.95L52.10,352.94M55.22,351.24L52.12,351.18M64.75,345.91L61.66,345.70M61.54,347.71A107.80,107.80 0 0 1 61.82,343.69M61.54,347.71L58.44,347.56M58.39,348.80A110.90,110.90 0 0 1 58.51,346.31M58.39,348.80L55.29,348.68M55.26,349.53A114.00,114.00 0 0 1 55.33,347.82M55.26,349.53L52.16,349.43M55.33,347.82L52.23,347.68M58.51,346.31L52.33,345.93M61.82,343.69L58.73,343.41M58.63,344.65A110.90,110.90 0 0 1 58.85,342.17M58.63,344.65L52.45,344.18M58.85,342.17L55.77,341.86M55.68,342.71A114.00,114.00 0 0 1 55.85,341.01M55.68,342.71L52.60,342.43M55.85,341.01L52.77,340.68M86.38,334.08L83.46,333.40M82.44,338.49A88.00,88.00 0 0 1 84.24,330.28M82.44,338.49L65.97,335.70M65.54,338.51A104.70,104.70 0 0 1 66.49,332.90M65.54,338.51L59.40,337.64M59.23,338.87A110.90,110.90 0 0 1 59.58,336.40M59.23,338.87L56.16,338.47M56.05,339.32A114.00,114.00 0 0 1 56.27,337.62M56.05,339.32L52.97,338.94M56.27,337.62L53.20,337.20M59.58,336.40L53.45,335.46M66.49,332.90L63.45,332.30M63.04,334.48A107.80,107.80 0 0 1 63.90,330.13M63.04,334.48L56.93,333.41M56.79,334.25A114.00,114.00 0 0 1 57.08,332.57M56.79,334.25L53.73,333.73M57.08,332.57L54.03,332.00M63.90,330.13L60.87,329.46M60.61,330.68A110.90,110.90 0 0 1 61.14,328.25M60.61,330.68L57.58,330.05M57.40,330.89A114.00,114.00 0 0 1 57.75,329.22M57.40,330.89L54.36,330.28M57.75,329.22L54.72,328.56M61.14,328.25L55.10,326.85M84.24,330.28L71.11,326.74M70.56,328.86A101.60,101.60 0 0 1 71.70,324.63M70.56,328.86L55.51,325.14M71.70,324.63L68.72,323.76M68.14,325.84A104.70,104.70 0 0 1 69.35,321.70M68.14,325.84L59.16,323.41M58.94,324.23A114.00,114.00 0 0 1 59.39,322.58M58.94,324.23L55.94,323.44M59.39,322.58L56.40,321.75M69.35,321.70L66.40,320.77M65.81,322.70A107.80,107.80 0 0 1 67.02,318.85M65.81,322.70L56.89,320.06M67.02,318.85L64.08,317.86M63.56,319.44A110.90,110.90 0 0 1 64.62,316.29M63.56,319.44L60.61,318.49M60.35,319.31A114.00,114.00 0 0 1 60.87,317.68M60.35,319.31L57.39,318.39M60.87,317.68L57.93,316.71M64.62,316.29L61.70,315.26M61.42,316.06A114.00,114.00 0 0 1 61.99,314.45M61.42,316.06L58.49,315.05M61.99,314.45L59.07,313.40" fill="none" stroke="#9a9a9a" stroke-width="0.62"/>
<path d="M66.38,295.50A117.90,117.90 0 0 1 266.60,286.76" fill="none" stroke="#448c9a" stroke-width="1.25"/>
<path d="M266.60,286.76A117.90,117.90 0 0 1 273.01,297.31" fill="none" stroke="#f03030" stroke-width="1.25"/>
<path d="M273.01,297.31A117.90,117.90 0 0 1 283.45,324.08" fill="none" stroke="#3a7fd8" stroke-width="1.25"/>
<path d="M283.45,324.08A117.90,117.90 0 1 1 58.62,312.30" fill="none" stroke="#f2ec30" stroke-width="1.05"/>
<text transform="translate(8.90,247.30) scale(0.9922,1)" font-size="14.35" font-weight="bold" fill="#000" stroke="#000" stroke-width="0.0">C</text>
<text transform="translate(51.63,260.20) scale(0.9381,1)" font-size="14.65" font-weight="bold" fill="#217068" stroke="#217068" stroke-width="0.0">Geng</text>
<text transform="translate(278.97,293.80) scale(0.9944,1)" font-size="13.74" font-weight="bold" fill="#f01e28" stroke="#f01e28" stroke-width="0.0">Bas</text>
<text transform="translate(291.67,313.50) scale(1.0262,1)" font-size="12.97" font-weight="bold" fill="#1e6fe8" stroke="#1e6fe8" stroke-width="0.0">admix</text>
<text transform="translate(280.74,421.40) scale(0.9701,1)" font-size="14.12" font-weight="bold" fill="#f0ec10" stroke="#f0ec10" stroke-width="0.0">Xian</text>
<path d="M387.6,271.3 V432.6 H648" fill="none" stroke="#2a2a2a" stroke-width="1.3"/>
<line x1="385.2" y1="425.10" x2="387.6" y2="425.10" stroke="#2a2a2a" stroke-width="1"/>
<line x1="385.2" y1="395.76" x2="387.6" y2="395.76" stroke="#2a2a2a" stroke-width="1"/>
<line x1="385.2" y1="366.42" x2="387.6" y2="366.42" stroke="#2a2a2a" stroke-width="1"/>
<line x1="385.2" y1="337.08" x2="387.6" y2="337.08" stroke="#2a2a2a" stroke-width="1"/>
<line x1="385.2" y1="307.74" x2="387.6" y2="307.74" stroke="#2a2a2a" stroke-width="1"/>
<line x1="385.2" y1="278.40" x2="387.6" y2="278.40" stroke="#2a2a2a" stroke-width="1"/>
<line x1="399.20" y1="432.6" x2="399.20" y2="434.8" stroke="#2a2a2a" stroke-width="1"/>
<line x1="458.65" y1="432.6" x2="458.65" y2="434.8" stroke="#2a2a2a" stroke-width="1"/>
<line x1="518.10" y1="432.6" x2="518.10" y2="434.8" stroke="#2a2a2a" stroke-width="1"/>
<line x1="577.55" y1="432.6" x2="577.55" y2="434.8" stroke="#2a2a2a" stroke-width="1"/>
<line x1="637.00" y1="432.6" x2="637.00" y2="434.8" stroke="#2a2a2a" stroke-width="1"/>
<path d="M399.50,278.60C399.50,281.28 399.33,290.43 399.50,294.70C399.67,298.97 400.02,301.35 400.50,304.20C400.98,307.05 401.62,309.42 402.40,311.80C403.18,314.18 404.10,316.43 405.20,318.50C406.30,320.57 407.42,322.47 409.00,324.20C410.58,325.93 412.17,327.17 414.70,328.90C417.23,330.63 420.72,332.85 424.20,334.60C427.68,336.35 431.80,337.97 435.60,339.40C439.40,340.83 443.20,342.10 447.00,343.20C450.80,344.30 454.60,345.15 458.40,346.00C462.20,346.85 464.58,347.38 469.80,348.30C475.02,349.22 480.05,350.10 489.70,351.50C499.35,352.90 514.32,355.28 527.70,356.70C541.08,358.12 557.53,359.18 570.00,360.00C582.47,360.82 591.40,361.07 602.50,361.60C613.60,362.13 630.92,362.93 636.60,363.20" fill="none" stroke="#3a3a3a" stroke-width="1.1"/>
<path d="M400.7,351.9 H489.8" fill="none" stroke="#b066f0" stroke-width="1.6" stroke-dasharray="3.5,2.6"/>
<path d="M489.8,351.9 V425.6" fill="none" stroke="#b066f0" stroke-width="1.6" stroke-dasharray="3.5,2.6"/>
<text transform="translate(348.59,248.60) scale(0.9613,1)" font-size="14.66" font-weight="normal" fill="#000" stroke="#000" stroke-width="0.5">D</text>
<text transform="translate(388.98,259.80) scale(1.0346,1)" font-size="13.89" font-weight="normal" fill="#000" stroke="#000" stroke-width="0.5">LD decay</text>
<text transform="translate(363.81,281.99) scale(1.0200,1)" font-size="14.4" font-weight="normal" fill="#000" stroke="#000" stroke-width="0.2">0.5</text>
<text transform="translate(363.48,311.33) scale(1.0200,1)" font-size="14.4" font-weight="normal" fill="#000" stroke="#000" stroke-width="0.2">0.4</text>
<text transform="translate(363.81,340.67) scale(1.0200,1)" font-size="14.4" font-weight="normal" fill="#000" stroke="#000" stroke-width="0.2">0.3</text>
<text transform="translate(364.05,370.01) scale(1.0200,1)" font-size="14.4" font-weight="normal" fill="#000" stroke="#000" stroke-width="0.2">0.2</text>
<text transform="translate(364.12,399.35) scale(1.0200,1)" font-size="14.4" font-weight="normal" fill="#000" stroke="#000" stroke-width="0.2">0.1</text>
<text transform="translate(374.81,428.72) scale(1.0200,1)" font-size="14.4" font-weight="normal" fill="#000" stroke="#000" stroke-width="0.2">0</text>
<text transform="translate(394.73,447.72) scale(1.0200,1)" font-size="14.4" font-weight="normal" fill="#000" stroke="#000" stroke-width="0.2">0</text>
<text transform="translate(446.79,447.72) scale(1.0200,1)" font-size="14.4" font-weight="normal" fill="#000" stroke="#000" stroke-width="0.2">250</text>
<text transform="translate(506.14,447.72) scale(1.0200,1)" font-size="14.4" font-weight="normal" fill="#000" stroke="#000" stroke-width="0.2">500</text>
<text transform="translate(565.53,447.72) scale(1.0200,1)" font-size="14.4" font-weight="normal" fill="#000" stroke="#000" stroke-width="0.2">750</text>
<text transform="translate(621.14,447.72) scale(1.0200,1)" font-size="14.4" font-weight="normal" fill="#000" stroke="#000" stroke-width="0.2">1000</text>
<text transform="translate(485.15,462.90) scale(1.0157,1)" font-size="13.74" font-weight="bold" fill="#000" stroke="#000" stroke-width="0.0">Distance (kb)</text>
<text transform="translate(356.67,358.86) rotate(-90) scale(1.0429,1)" font-size="12.63" font-weight="bold" fill="#000" stroke="#000" stroke-width="0.0">mean R</text>
<text transform="translate(352.20,314.42) rotate(-90) scale(1.0209,1)" font-size="7.55" font-weight="bold" fill="#000" stroke="#000" stroke-width="0.0">2</text>
<text transform="translate(482.35,344.80) scale(1.0562,1)" font-size="13.90" font-weight="normal" fill="#000" stroke="#000" stroke-width="0.35">(382,0.250)</text>
</g>
</svg></body></html>
